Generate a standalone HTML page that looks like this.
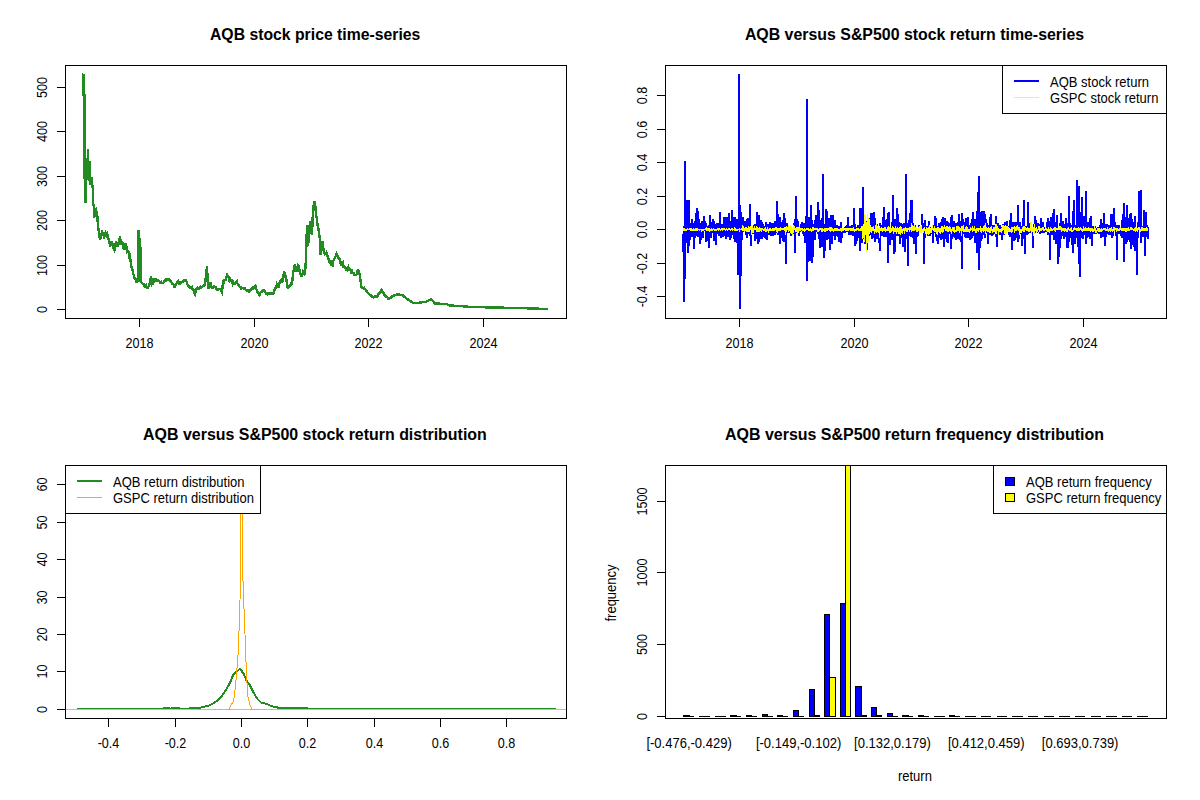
<!DOCTYPE html>
<html><head><meta charset="utf-8"><style>
html,body{margin:0;padding:0;background:#fff;overflow:hidden;}
svg{display:block;}
text{font-family:"Liberation Sans", sans-serif;fill:#000;}
</style></head><body>
<svg width="1200" height="800" viewBox="0 0 1200 800">
<defs><clipPath id="c2"><rect x="665" y="65" width="502" height="254"/></clipPath><clipPath id="c4"><rect x="665" y="465" width="502" height="254"/></clipPath></defs>
<rect width="1200" height="800" fill="#fff"/>
<text transform="translate(315.15,40.2) scale(0.987,1)" text-anchor="middle" font-size="16.0" font-weight="bold">AQB stock price time-series</text>
<path d="M82.10 74.40 L82.57 74.60 L83.03 74.80 L83.50 75.00 L83.50 95.00 L84.00 95.00 L84.50 95.00 L84.50 171.00 L85.00 188.79 L85.50 203.00 L86.00 175.00 L86.50 177.03 L87.00 180.00 L87.50 164.23 L88.00 149.40 L88.50 168.62 L89.00 181.00 L89.50 161.00 L90.00 173.28 L90.50 185.00 L91.00 180.92 L91.50 177.00 L92.00 181.00 L92.50 186.81 L93.00 190.00 L93.00 203.50 L93.50 205.78 L94.00 204.00 L94.25 217.50 L95.00 210.00 L95.50 209.44 L96.00 209.00 L96.50 213.06 L97.00 215.00 L97.40 216.00 L98.00 228.00 L98.50 228.97 L99.00 233.00 L99.50 235.97 L100.00 240.00 L100.50 237.98 L101.00 235.29 L101.50 233.59 L102.00 231.97 L102.50 233.00 L103.00 233.98 L103.50 235.41 L104.00 237.00 L104.50 236.04 L105.00 236.10 L105.50 233.54 L106.00 234.88 L106.50 234.85 L107.00 234.00 L107.50 236.85 L108.00 236.29 L108.50 238.69 L109.00 241.00 L109.50 241.38 L110.00 247.00 L110.50 245.37 L111.00 242.19 L111.50 242.15 L112.00 243.00 L112.50 245.82 L113.00 243.02 L113.50 248.19 L114.00 249.00 L114.50 250.00 L115.00 246.61 L115.50 244.60 L116.00 241.00 L116.50 243.20 L117.00 245.36 L117.50 245.21 L118.00 247.00 L118.50 243.99 L119.00 241.70 L119.50 238.89 L120.00 238.00 L120.50 239.44 L121.00 239.93 L121.50 243.92 L122.00 244.00 L122.50 243.13 L123.00 245.64 L123.50 247.35 L124.00 250.00 L124.50 246.23 L125.00 249.84 L125.50 243.23 L126.00 245.00 L126.50 246.40 L127.00 247.86 L127.50 252.20 L128.00 252.00 L128.50 250.78 L129.00 255.18 L129.50 254.21 L130.00 256.00 L130.50 260.35 L131.00 265.00 L131.50 266.44 L132.00 269.51 L132.50 270.14 L133.00 273.00 L133.50 274.45 L134.00 276.23 L134.50 278.66 L135.00 279.00 L135.50 278.60 L136.00 281.00 L136.50 281.85 L137.00 281.53 L137.50 280.73 L138.00 281.17 L138.50 281.00 L138.50 230.00 L139.00 233.64 L139.50 240.98 L140.00 243.00 L140.50 248.75 L141.00 254.00 L141.00 282.00 L141.50 282.39 L142.00 282.88 L142.50 283.40 L143.00 284.00 L143.50 284.41 L144.00 284.58 L144.50 286.47 L145.00 286.00 L145.50 285.47 L146.00 285.06 L146.50 286.95 L147.00 287.27 L147.50 287.83 L148.00 288.00 L148.50 286.58 L149.00 285.26 L149.50 284.00 L150.00 281.52 L150.50 279.25 L151.00 276.00 L151.50 279.24 L152.00 283.00 L152.50 282.00 L153.00 282.47 L153.50 280.90 L154.00 279.22 L154.50 279.00 L155.00 280.67 L155.50 280.03 L156.00 279.51 L156.50 279.47 L157.00 280.60 L157.50 280.24 L158.00 281.00 L158.50 280.66 L159.00 280.79 L159.50 281.47 L160.00 282.60 L160.50 282.02 L161.00 281.73 L161.50 283.10 L162.00 283.00 L162.46 282.73 L162.92 282.83 L163.38 282.72 L163.85 281.68 L164.31 281.38 L164.77 281.13 L165.23 280.21 L165.69 280.92 L166.15 281.02 L166.62 280.02 L167.08 279.48 L167.54 279.15 L168.00 279.00 L168.50 279.04 L169.00 279.53 L169.50 280.27 L170.00 280.53 L170.50 281.26 L171.00 281.15 L171.50 282.69 L172.00 283.00 L172.50 283.82 L173.00 284.04 L173.50 284.32 L174.00 286.20 L174.50 287.00 L175.00 286.65 L175.50 284.94 L176.00 284.19 L176.50 283.28 L177.00 283.06 L177.50 281.36 L178.00 281.00 L178.50 282.29 L179.00 282.34 L179.50 283.73 L180.00 284.00 L180.45 283.65 L180.91 283.15 L181.36 282.14 L181.82 282.18 L182.27 282.04 L182.73 282.18 L183.18 281.59 L183.64 280.70 L184.09 280.96 L184.55 280.93 L185.00 280.00 L185.60 280.00 L186.08 280.92 L186.56 281.76 L187.04 282.80 L187.52 284.41 L188.00 285.00 L188.50 286.00 L189.00 286.08 L189.50 287.41 L190.00 288.00 L190.50 287.55 L191.00 287.18 L191.50 287.79 L192.00 287.00 L192.50 288.34 L193.00 288.71 L193.50 290.00 L194.00 291.36 L194.50 292.83 L195.00 294.00 L195.50 292.12 L196.00 290.62 L196.50 289.00 L197.00 289.13 L197.50 287.99 L198.00 288.71 L198.50 288.73 L199.00 288.49 L199.50 287.58 L200.00 288.00 L200.50 287.80 L201.00 286.96 L201.50 287.25 L202.00 286.94 L202.50 286.43 L203.00 286.00 L203.50 285.39 L204.00 285.22 L204.50 285.66 L205.00 285.00 L205.50 279.73 L206.00 275.83 L206.50 271.14 L207.00 266.00 L207.50 276.82 L208.00 288.00 L208.50 288.05 L209.00 286.03 L209.50 286.03 L210.00 282.99 L210.50 283.00 L211.00 283.57 L211.50 286.78 L212.00 288.00 L212.50 288.10 L213.00 287.53 L213.50 287.48 L214.00 286.51 L214.50 286.89 L215.00 287.00 L215.50 287.16 L216.00 288.11 L216.50 289.16 L217.00 289.42 L217.50 290.00 L218.00 289.94 L218.50 289.33 L219.00 289.23 L219.50 289.24 L220.00 289.00 L220.50 289.64 L221.00 290.97 L221.50 290.94 L222.00 292.00 L222.50 287.83 L223.00 282.00 L223.50 280.96 L224.00 281.59 L224.50 280.06 L225.00 280.00 L225.50 279.75 L226.00 277.59 L226.50 276.51 L227.00 275.00 L227.50 276.49 L228.00 276.59 L228.50 277.35 L229.00 279.00 L229.50 278.30 L230.00 280.71 L230.50 280.10 L231.00 280.67 L231.50 281.48 L232.00 282.00 L232.50 283.39 L233.00 281.76 L233.50 283.13 L234.00 283.13 L234.50 283.94 L235.00 284.00 L235.50 282.58 L236.00 282.79 L236.50 282.95 L237.00 282.00 L237.50 283.81 L238.00 284.80 L238.50 284.59 L239.00 286.00 L239.50 286.52 L240.00 286.95 L240.50 286.91 L241.00 288.00 L241.50 287.40 L242.00 288.32 L242.50 288.10 L243.00 287.94 L243.50 288.51 L244.00 288.00 L244.50 288.09 L245.00 289.21 L245.50 289.50 L246.00 290.00 L246.50 290.10 L247.00 290.43 L247.50 290.44 L248.00 290.60 L248.50 290.72 L249.00 291.46 L249.50 290.76 L250.00 291.00 L250.50 290.78 L251.00 290.03 L251.50 289.06 L252.00 288.92 L252.50 288.00 L253.00 287.30 L253.50 287.84 L254.00 286.64 L254.50 286.45 L255.00 286.48 L255.50 286.00 L256.00 288.02 L256.50 289.69 L257.00 291.00 L257.50 292.11 L258.00 292.53 L258.50 293.10 L259.00 294.36 L259.50 295.00 L260.00 294.09 L260.50 292.70 L261.00 292.00 L261.50 292.00 L262.00 291.40 L262.50 290.66 L263.00 290.83 L263.50 289.84 L264.00 290.00 L264.50 290.68 L265.00 292.14 L265.50 292.50 L266.00 294.00 L266.50 294.01 L267.00 293.59 L267.50 294.22 L268.00 294.00 L268.45 293.78 L268.91 294.05 L269.36 293.55 L269.82 293.90 L270.27 294.28 L270.73 294.14 L271.18 293.45 L271.64 294.28 L272.09 294.27 L272.55 293.89 L273.00 294.00 L273.50 293.21 L274.00 291.13 L274.50 290.22 L275.00 289.00 L275.50 288.22 L276.00 287.09 L276.50 285.86 L277.00 284.00 L277.50 284.82 L278.00 285.87 L278.50 288.00 L279.00 285.85 L279.50 282.60 L280.00 281.00 L280.50 280.93 L281.00 280.28 L281.50 281.59 L282.00 281.45 L282.50 281.31 L283.00 281.00 L283.50 276.01 L284.00 271.00 L284.50 272.53 L285.00 273.79 L285.50 275.76 L286.00 277.00 L286.50 280.48 L287.00 283.90 L287.50 287.00 L288.00 286.41 L288.50 287.07 L289.00 285.93 L289.50 286.06 L290.00 285.00 L290.50 285.15 L291.00 283.56 L291.50 282.64 L292.00 283.00 L292.50 279.27 L293.00 274.00 L293.50 271.21 L294.00 269.07 L294.50 266.28 L295.00 264.00 L295.50 266.78 L296.00 268.39 L296.50 272.00 L297.00 269.92 L297.50 267.62 L298.00 266.00 L298.50 267.49 L299.00 267.13 L299.50 271.13 L300.00 272.00 L300.50 273.90 L301.00 274.17 L301.50 277.00 L302.00 274.84 L302.50 273.69 L303.00 272.00 L303.50 272.96 L304.00 273.00 L304.50 274.48 L305.00 274.00 L305.50 266.02 L306.00 258.00 L306.50 240.15 L307.00 225.00 L307.50 234.51 L308.00 246.00 L308.50 240.78 L309.00 232.57 L309.50 228.62 L310.00 221.00 L310.50 226.22 L311.00 228.95 L311.50 233.08 L312.00 235.00 L312.50 222.20 L313.00 210.00 L313.50 206.98 L314.00 202.93 L314.50 201.00 L315.00 204.57 L315.50 207.52 L316.00 215.00 L316.50 217.33 L317.00 219.80 L317.50 225.00 L318.00 225.00 L318.50 229.90 L319.00 232.00 L319.50 236.66 L320.00 240.00 L320.50 255.00 L321.00 251.11 L321.50 249.67 L322.00 245.71 L322.50 241.00 L323.00 246.66 L323.50 248.95 L324.00 254.00 L324.50 252.15 L325.00 254.22 L325.50 253.74 L326.00 254.01 L326.50 253.00 L327.00 254.95 L327.50 256.00 L328.00 258.96 L328.50 259.05 L329.00 261.00 L329.50 262.43 L330.00 261.77 L330.50 261.29 L331.00 263.80 L331.50 265.00 L332.00 265.35 L332.50 261.46 L333.00 262.96 L333.50 260.35 L334.00 260.00 L334.50 258.35 L335.00 257.55 L335.50 256.47 L336.00 255.00 L336.50 253.95 L337.00 255.00 L337.50 255.88 L338.00 256.97 L338.50 258.11 L339.00 258.00 L339.50 258.50 L340.00 262.00 L340.50 263.55 L341.00 263.00 L341.50 265.70 L342.00 262.79 L342.50 264.65 L343.00 263.36 L343.50 265.83 L344.00 266.00 L344.50 267.47 L345.00 267.06 L345.50 267.73 L346.00 270.00 L346.50 270.02 L347.00 270.24 L347.50 269.00 L348.00 269.29 L348.50 267.37 L349.00 268.69 L349.50 269.24 L350.00 269.00 L350.50 269.79 L351.00 271.56 L351.50 270.13 L352.00 269.99 L352.50 272.66 L353.00 273.00 L353.50 273.08 L354.00 274.20 L354.50 275.00 L355.00 275.00 L355.50 274.91 L356.00 275.01 L356.50 274.46 L357.00 273.00 L357.50 271.11 L358.00 271.62 L358.50 271.00 L359.00 274.12 L359.50 274.05 L360.00 276.00 L360.50 280.23 L361.00 283.30 L361.50 287.00 L362.00 287.10 L362.50 288.25 L363.00 288.30 L363.50 288.04 L364.00 288.80 L364.50 288.18 L365.00 289.00 L365.50 289.34 L366.00 290.59 L366.50 290.89 L367.00 291.13 L367.50 292.28 L368.00 292.86 L368.50 293.78 L369.00 294.00 L369.50 294.65 L370.00 294.67 L370.50 294.99 L371.00 295.46 L371.50 295.81 L372.00 296.62 L372.50 297.02 L373.00 297.00 L373.50 297.26 L374.00 296.97 L374.50 296.75 L375.00 296.97 L375.50 296.60 L376.00 296.68 L376.50 296.15 L377.00 296.50 L377.50 295.69 L378.00 295.50 L378.50 294.10 L379.00 293.24 L379.50 293.00 L380.00 292.20 L380.50 292.08 L381.00 291.28 L381.50 290.00 L382.00 290.73 L382.50 291.55 L383.00 292.54 L383.50 293.14 L384.00 294.30 L384.50 295.06 L385.00 296.00 L385.50 296.00 L386.00 296.61 L386.50 297.06 L387.00 297.30 L387.50 297.63 L388.00 298.44 L388.50 299.02 L389.00 299.00 L389.50 298.57 L390.00 298.16 L390.50 297.99 L391.00 297.45 L391.50 296.94 L392.00 297.09 L392.50 296.11 L393.00 296.00 L393.50 295.62 L394.00 295.45 L394.50 295.20 L395.00 295.18 L395.50 295.22 L396.00 295.28 L396.50 294.88 L397.00 294.50 L397.45 294.56 L397.91 294.23 L398.36 294.62 L398.82 294.41 L399.27 294.70 L399.73 295.05 L400.18 294.88 L400.64 294.80 L401.09 294.70 L401.55 294.95 L402.00 295.00 L402.50 295.41 L403.00 295.50 L403.50 295.99 L404.00 296.72 L404.50 296.47 L405.00 297.15 L405.50 297.36 L406.00 298.00 L406.50 298.66 L407.00 298.79 L407.50 299.10 L408.00 299.41 L408.50 299.72 L409.00 300.00 L409.50 300.38 L410.00 300.75 L410.50 301.12 L411.00 301.50 L411.50 301.88 L412.00 302.25 L412.50 302.62 L413.00 303.00 L413.45 303.00 L413.91 303.00 L414.36 303.00 L414.82 303.00 L415.27 303.00 L415.73 303.00 L416.18 303.00 L416.64 303.00 L417.09 303.00 L417.55 303.00 L418.00 303.00 L418.45 302.91 L418.91 302.82 L419.36 302.73 L419.82 302.64 L420.27 302.55 L420.73 302.45 L421.18 302.36 L421.64 302.27 L422.09 302.18 L422.55 302.09 L423.00 302.00 L423.50 302.00 L424.00 302.00 L424.50 302.00 L425.00 302.00 L425.50 302.00 L426.00 302.00 L426.45 301.73 L426.91 301.45 L427.36 301.18 L427.82 300.91 L428.27 300.64 L428.73 300.36 L429.18 300.09 L429.64 300.03 L430.09 299.76 L430.55 299.33 L431.00 299.00 L431.50 299.44 L432.00 300.12 L432.50 300.69 L433.00 301.25 L433.50 301.81 L434.00 302.38 L434.50 302.94 L435.00 303.50 L435.46 303.52 L435.92 303.54 L436.38 303.56 L436.83 303.58 L437.29 303.60 L437.75 303.62 L438.21 303.65 L438.67 303.67 L439.12 303.69 L439.58 303.71 L440.04 303.73 L440.50 303.75 L440.96 303.77 L441.42 303.79 L441.88 303.81 L442.33 303.83 L442.79 303.85 L443.25 303.88 L443.71 303.90 L444.17 303.92 L444.62 303.94 L445.08 303.96 L445.54 303.98 L446.00 304.00 L446.50 304.19 L447.00 304.38 L447.50 304.56 L448.00 304.75 L448.50 304.94 L449.00 305.12 L449.50 305.31 L450.00 305.50 L450.45 305.52 L450.90 305.55 L451.35 305.57 L451.80 305.60 L452.25 305.62 L452.70 305.65 L453.15 305.68 L453.60 305.70 L454.05 305.73 L454.50 305.75 L454.95 305.77 L455.40 305.80 L455.85 305.82 L456.30 305.85 L456.75 305.88 L457.20 305.90 L457.65 305.93 L458.10 305.95 L458.55 305.98 L459.00 306.00 L459.46 306.04 L459.92 306.08 L460.38 306.12 L460.85 306.15 L461.31 306.19 L461.77 306.23 L462.23 306.27 L462.69 306.31 L463.15 306.35 L463.62 306.38 L464.08 306.42 L464.54 306.46 L465.00 306.50 L465.46 306.54 L465.92 306.58 L466.38 306.62 L466.85 306.65 L467.31 306.69 L467.77 306.73 L468.23 306.77 L468.69 306.81 L469.15 306.85 L469.62 306.88 L470.08 306.92 L470.54 306.96 L471.00 307.00 L471.45 307.01 L471.90 307.02 L472.36 307.03 L472.81 307.04 L473.26 307.05 L473.71 307.06 L474.16 307.07 L474.62 307.08 L475.07 307.09 L475.52 307.10 L475.97 307.11 L476.42 307.12 L476.88 307.12 L477.33 307.13 L477.78 307.14 L478.23 307.15 L478.68 307.16 L479.13 307.17 L479.59 307.18 L480.04 307.19 L480.49 307.20 L480.94 307.21 L481.39 307.22 L481.85 307.23 L482.30 307.24 L482.75 307.25 L483.20 307.26 L483.65 307.27 L484.11 307.28 L484.56 307.29 L485.01 307.30 L485.46 307.31 L485.91 307.32 L486.37 307.33 L486.82 307.34 L487.27 307.35 L487.72 307.36 L488.17 307.37 L488.62 307.38 L489.08 307.38 L489.53 307.39 L489.98 307.40 L490.43 307.41 L490.88 307.42 L491.34 307.43 L491.79 307.44 L492.24 307.45 L492.69 307.46 L493.14 307.47 L493.60 307.48 L494.05 307.49 L494.50 307.50 L494.95 307.51 L495.40 307.52 L495.86 307.53 L496.31 307.54 L496.76 307.55 L497.21 307.56 L497.66 307.57 L498.12 307.58 L498.57 307.59 L499.02 307.60 L499.47 307.61 L499.92 307.62 L500.38 307.62 L500.83 307.63 L501.28 307.64 L501.73 307.65 L502.18 307.66 L502.63 307.67 L503.09 307.68 L503.54 307.69 L503.99 307.70 L504.44 307.71 L504.89 307.72 L505.35 307.73 L505.80 307.74 L506.25 307.75 L506.70 307.76 L507.15 307.77 L507.61 307.78 L508.06 307.79 L508.51 307.80 L508.96 307.81 L509.41 307.82 L509.87 307.83 L510.32 307.84 L510.77 307.85 L511.22 307.86 L511.67 307.87 L512.12 307.88 L512.58 307.88 L513.03 307.89 L513.48 307.90 L513.93 307.91 L514.38 307.92 L514.84 307.93 L515.29 307.94 L515.74 307.95 L516.19 307.96 L516.64 307.97 L517.10 307.98 L517.55 307.99 L518.00 308.00 L518.45 308.02 L518.91 308.03 L519.36 308.05 L519.82 308.06 L520.27 308.08 L520.73 308.09 L521.18 308.11 L521.64 308.12 L522.09 308.14 L522.55 308.15 L523.00 308.17 L523.45 308.18 L523.91 308.20 L524.36 308.21 L524.82 308.23 L525.27 308.24 L525.73 308.26 L526.18 308.27 L526.64 308.29 L527.09 308.30 L527.55 308.32 L528.00 308.33 L528.45 308.35 L528.91 308.36 L529.36 308.38 L529.82 308.39 L530.27 308.41 L530.73 308.42 L531.18 308.44 L531.64 308.45 L532.09 308.47 L532.55 308.48 L533.00 308.50 L533.45 308.52 L533.91 308.53 L534.36 308.55 L534.82 308.56 L535.27 308.58 L535.73 308.59 L536.18 308.61 L536.64 308.62 L537.09 308.64 L537.55 308.65 L538.00 308.67 L538.45 308.68 L538.91 308.70 L539.36 308.71 L539.82 308.73 L540.27 308.74 L540.73 308.76 L541.18 308.77 L541.64 308.79 L542.09 308.80 L542.55 308.82 L543.00 308.83 L543.45 308.85 L543.91 308.86 L544.36 308.88 L544.82 308.89 L545.27 308.91 L545.73 308.92 L546.18 308.94 L546.64 308.95 L547.09 308.97 L547.55 308.98 L548.00 309.00" fill="none" stroke="#228b22" stroke-width="2.4" stroke-linejoin="miter" shape-rendering="crispEdges"/>
<rect x="65.5" y="65.5" width="501" height="253" fill="none" stroke="#000" stroke-width="1" shape-rendering="crispEdges"/>
<path d="M139.5 318.5V326.5M254.5 318.5V326.5M368.5 318.5V326.5M483.5 318.5V326.5" stroke="#000" stroke-width="1" fill="none" shape-rendering="crispEdges"/>
<text transform="translate(139.5,348) scale(0.9,1)" text-anchor="middle" font-size="14.0">2018</text>
<text transform="translate(254.5,348) scale(0.9,1)" text-anchor="middle" font-size="14.0">2020</text>
<text transform="translate(368.5,348) scale(0.9,1)" text-anchor="middle" font-size="14.0">2022</text>
<text transform="translate(483.5,348) scale(0.9,1)" text-anchor="middle" font-size="14.0">2024</text>
<path d="M57 309.5H66M57 265.5H66M57 220.5H66M57 176.5H66M57 131.5H66M57 87.5H66" stroke="#000" stroke-width="1" fill="none" shape-rendering="crispEdges"/>
<text transform="translate(46.5,309.5) rotate(-90) scale(0.9,1)" text-anchor="middle" font-size="14.0">0</text>
<text transform="translate(46.5,265.5) rotate(-90) scale(0.9,1)" text-anchor="middle" font-size="14.0">100</text>
<text transform="translate(46.5,220.5) rotate(-90) scale(0.9,1)" text-anchor="middle" font-size="14.0">200</text>
<text transform="translate(46.5,176.5) rotate(-90) scale(0.9,1)" text-anchor="middle" font-size="14.0">300</text>
<text transform="translate(46.5,131.5) rotate(-90) scale(0.9,1)" text-anchor="middle" font-size="14.0">400</text>
<text transform="translate(46.5,87.5) rotate(-90) scale(0.9,1)" text-anchor="middle" font-size="14.0">500</text>
<text transform="translate(914.5,40.2) scale(0.9946,1)" text-anchor="middle" font-size="16.0" font-weight="bold">AQB versus S&amp;P500 stock return time-series</text>
<g clip-path="url(#c2)"><path d="M683.00 233.39 L683.23 234.13 L683.46 236.72 L683.70 302.00 L683.91 236.03 L684.14 240.34 L684.37 226.14 L684.60 234.45 L684.80 161.00 L685.00 278.60 L685.28 223.22 L685.51 230.68 L685.74 221.54 L686.00 200.00 L686.19 217.74 L686.42 225.60 L686.65 223.75 L686.88 234.86 L687.10 243.38 L687.33 218.40 L687.50 200.00 L687.79 224.24 L688.02 212.93 L688.25 227.07 L688.40 253.00 L688.70 235.79 L689.00 200.50 L689.16 231.26 L689.39 233.85 L689.61 227.08 L689.84 225.25 L690.07 225.17 L690.30 239.59 L690.53 232.81 L690.75 237.15 L690.98 230.11 L691.21 235.36 L691.44 222.80 L691.67 228.02 L691.89 219.07 L692.12 232.57 L692.35 228.21 L692.58 232.34 L692.81 229.54 L693.03 235.05 L693.26 223.58 L693.49 235.09 L693.70 248.80 L693.95 231.02 L694.17 233.17 L694.40 223.04 L694.63 226.64 L694.86 229.03 L695.09 227.07 L695.31 237.96 L695.54 218.61 L695.77 234.80 L696.00 227.61 L696.23 213.50 L696.46 227.71 L696.68 230.94 L696.91 207.97 L697.14 215.86 L697.37 235.38 L697.60 236.59 L697.82 215.28 L698.05 213.13 L698.28 211.48 L698.51 218.60 L698.74 221.11 L698.96 227.64 L699.19 223.23 L699.42 234.46 L699.65 223.16 L699.88 227.05 L700.00 243.50 L700.33 226.88 L700.56 224.92 L700.79 223.03 L701.02 236.68 L701.24 239.56 L701.47 224.42 L701.70 220.65 L701.93 224.35 L702.16 229.26 L702.38 230.17 L702.61 238.02 L702.84 227.14 L703.07 225.69 L703.30 227.86 L703.52 222.54 L703.75 216.44 L703.98 225.36 L704.21 224.23 L704.44 230.83 L704.67 221.45 L704.89 226.13 L705.12 231.05 L705.35 230.91 L705.58 223.42 L705.81 235.22 L706.03 237.55 L706.26 242.08 L706.49 230.43 L706.72 233.18 L706.95 231.71 L707.17 228.72 L707.40 229.77 L707.63 226.45 L707.86 228.78 L708.09 233.52 L708.31 225.82 L708.60 247.70 L708.77 231.71 L709.00 227.23 L709.23 231.65 L709.45 234.62 L709.60 214.80 L709.91 234.32 L710.14 235.43 L710.37 232.34 L710.59 232.10 L710.82 230.70 L711.05 238.04 L711.28 229.50 L711.51 230.34 L711.73 222.85 L711.96 231.04 L712.19 225.26 L712.42 225.52 L712.65 218.59 L712.87 223.37 L713.10 233.42 L713.33 230.70 L713.56 232.07 L713.79 221.32 L714.02 232.96 L714.24 230.16 L714.47 240.66 L714.70 228.61 L714.93 235.75 L715.16 232.33 L715.38 237.32 L715.61 231.17 L715.84 229.72 L716.00 244.60 L716.30 223.54 L716.52 226.49 L716.75 229.25 L716.98 228.43 L717.21 225.01 L717.44 226.88 L717.66 229.28 L717.89 224.16 L718.12 223.50 L718.35 229.97 L718.58 235.61 L718.80 224.72 L719.03 229.53 L719.26 223.96 L719.49 228.07 L719.72 231.30 L719.94 226.44 L720.20 212.30 L720.40 230.37 L720.63 225.70 L720.86 232.04 L721.08 238.28 L721.31 230.77 L721.54 223.73 L721.77 229.07 L722.00 235.75 L722.23 226.32 L722.45 231.66 L722.68 230.55 L722.91 228.45 L723.14 234.14 L723.37 237.08 L723.59 223.23 L723.82 221.19 L724.05 229.69 L724.28 233.21 L724.50 217.00 L724.73 217.27 L724.96 224.38 L725.19 236.01 L725.42 229.42 L725.65 233.99 L725.87 238.71 L726.10 226.96 L726.33 229.15 L726.56 224.24 L726.79 216.86 L727.01 223.76 L727.24 222.54 L727.47 222.50 L727.70 228.06 L727.93 233.61 L728.15 228.78 L728.38 236.72 L728.61 232.63 L728.84 225.18 L729.07 213.46 L729.29 233.89 L729.52 232.54 L729.75 239.96 L729.98 221.37 L730.21 228.47 L730.44 231.78 L730.66 236.15 L730.89 225.21 L731.12 237.50 L731.35 224.33 L731.58 229.83 L731.80 222.69 L732.03 229.51 L732.26 209.95 L732.49 234.69 L732.72 227.59 L732.94 217.37 L733.17 233.96 L733.40 224.26 L733.63 224.88 L733.86 239.07 L734.08 231.19 L734.31 226.46 L734.54 228.98 L734.77 232.39 L735.00 217.50 L735.22 242.43 L735.45 230.49 L735.68 225.06 L735.91 219.38 L736.14 230.58 L736.36 226.20 L736.59 223.10 L736.82 228.54 L737.05 233.66 L737.28 242.57 L737.50 233.22 L737.73 218.97 L737.96 231.55 L738.30 275.00 L738.42 235.03 L738.64 215.51 L738.87 231.74 L739.00 73.90 L739.33 232.05 L739.50 203.00 L739.79 236.32 L740.01 228.86 L740.24 221.79 L740.40 309.40 L740.70 227.74 L740.93 228.65 L741.15 212.25 L741.38 229.99 L741.61 239.85 L741.84 233.55 L742.07 226.54 L742.29 236.77 L742.52 217.08 L742.75 229.06 L742.98 230.96 L743.21 231.28 L743.43 229.77 L743.66 224.66 L743.89 225.10 L744.12 232.24 L744.35 230.59 L744.57 231.81 L744.80 228.56 L745.03 221.27 L745.26 230.49 L745.49 225.01 L745.71 232.15 L745.94 222.03 L746.17 235.42 L746.40 227.87 L746.63 232.55 L746.85 237.74 L747.08 233.62 L747.31 229.36 L747.54 218.42 L747.77 230.59 L748.00 228.93 L748.22 231.34 L748.45 225.50 L748.68 226.39 L748.91 219.86 L749.14 226.59 L749.36 230.97 L749.59 234.49 L749.82 230.05 L750.00 204.00 L750.28 236.38 L750.50 230.27 L750.73 227.82 L751.00 245.60 L751.19 233.01 L751.42 234.34 L751.64 232.98 L751.87 231.20 L752.10 229.86 L752.33 232.10 L752.56 227.39 L752.78 229.89 L753.01 228.69 L753.24 232.30 L753.47 233.34 L753.70 232.14 L753.92 228.97 L754.15 224.66 L754.38 234.23 L754.61 223.99 L754.84 240.76 L755.06 236.47 L755.29 233.67 L755.52 228.85 L755.75 238.89 L755.98 231.66 L756.21 233.05 L756.43 224.35 L756.66 236.00 L757.00 211.70 L757.12 229.96 L757.35 229.75 L757.57 223.70 L757.80 229.91 L758.03 230.41 L758.26 229.41 L758.50 243.50 L758.71 229.37 L758.94 237.10 L759.17 215.14 L759.40 226.10 L759.63 230.06 L759.85 236.83 L760.08 231.23 L760.31 238.85 L760.54 226.79 L760.77 227.65 L760.99 229.20 L761.22 232.31 L761.45 220.41 L761.68 227.19 L761.91 226.30 L762.13 227.72 L762.36 239.34 L762.59 234.38 L762.82 229.10 L763.05 224.03 L763.27 227.91 L763.50 236.67 L763.73 226.15 L763.96 229.51 L764.19 226.53 L764.41 228.07 L764.64 228.14 L764.87 231.09 L765.10 235.17 L765.33 235.56 L765.56 238.79 L765.78 231.45 L766.01 221.88 L766.24 230.40 L766.47 227.58 L766.70 233.02 L767.00 240.30 L767.15 228.71 L767.38 234.73 L767.61 226.71 L767.84 234.60 L768.06 224.49 L768.29 234.39 L768.52 225.04 L768.75 229.87 L768.98 230.97 L769.20 231.45 L769.43 230.50 L769.66 221.70 L769.89 234.87 L770.12 224.32 L770.34 221.96 L770.57 229.04 L770.80 235.92 L771.03 226.01 L771.26 231.98 L771.48 225.61 L771.71 228.92 L771.94 222.60 L772.17 224.81 L772.40 234.66 L772.62 227.35 L772.85 236.40 L773.08 231.16 L773.31 223.34 L773.54 227.80 L773.77 235.24 L773.99 228.51 L774.22 223.07 L774.45 233.94 L774.68 220.81 L774.91 221.77 L775.13 231.18 L775.36 234.86 L775.59 230.18 L775.82 223.38 L776.05 227.58 L776.27 228.32 L776.50 233.42 L776.73 222.81 L776.96 227.60 L777.19 229.75 L777.41 200.98 L777.64 229.84 L777.87 235.18 L778.10 225.79 L778.33 233.14 L778.55 229.53 L778.78 234.55 L779.01 221.26 L779.24 232.70 L779.50 217.50 L779.70 243.50 L779.92 229.46 L780.15 236.01 L780.38 219.71 L780.61 233.49 L780.83 222.22 L781.06 235.31 L781.29 228.05 L781.52 226.52 L781.75 238.00 L781.97 232.33 L782.20 235.44 L782.43 232.53 L782.66 227.09 L782.89 232.81 L783.12 220.36 L783.34 237.67 L783.57 242.23 L783.80 236.17 L784.00 213.30 L784.26 235.83 L784.48 216.66 L784.71 225.72 L784.94 237.74 L785.17 221.32 L785.40 223.00 L785.62 235.70 L785.85 232.99 L786.00 263.70 L786.31 230.86 L786.54 222.84 L786.76 225.20 L786.99 230.23 L787.22 229.13 L787.45 228.32 L787.68 228.12 L787.90 229.26 L788.13 229.21 L788.36 232.78 L788.59 228.51 L788.82 230.03 L789.04 229.69 L789.27 230.84 L789.50 230.82 L789.73 228.52 L789.96 227.32 L790.18 232.85 L790.41 227.37 L790.64 236.36 L790.87 226.04 L791.10 229.88 L791.33 233.14 L791.55 227.65 L791.78 232.61 L792.01 229.60 L792.24 232.52 L792.47 231.46 L792.69 234.36 L792.92 231.72 L793.15 227.64 L793.38 228.70 L793.61 227.75 L793.83 231.17 L794.06 224.81 L794.29 223.51 L794.52 223.78 L794.75 218.57 L795.00 253.00 L795.20 227.86 L795.43 224.62 L795.66 232.63 L795.89 232.06 L796.11 229.86 L796.30 196.30 L796.57 230.78 L796.80 225.19 L797.03 228.97 L797.25 228.52 L797.48 219.10 L797.71 228.74 L797.94 228.60 L798.17 226.07 L798.39 233.68 L798.62 226.08 L798.85 231.73 L799.08 236.01 L799.31 229.44 L799.54 228.60 L799.76 232.39 L799.99 227.02 L800.22 231.40 L800.45 229.08 L800.68 229.63 L800.90 225.35 L801.13 225.75 L801.36 224.45 L801.59 226.69 L801.82 231.20 L802.04 230.48 L802.27 226.11 L802.50 221.74 L802.73 233.67 L802.96 234.06 L803.18 228.84 L803.41 230.14 L803.64 225.16 L803.87 229.92 L804.10 222.89 L804.32 230.93 L804.55 236.69 L804.78 229.88 L805.01 228.73 L805.24 230.68 L805.46 243.41 L805.69 234.83 L805.92 215.70 L806.15 218.67 L806.38 226.32 L806.60 226.87 L806.90 99.00 L807.00 280.70 L807.29 215.69 L807.52 237.10 L807.74 225.68 L807.97 237.02 L808.20 232.58 L808.50 262.00 L808.66 232.01 L808.89 217.05 L809.11 220.00 L809.34 226.82 L809.57 225.91 L809.80 223.34 L810.00 261.00 L810.25 232.25 L810.48 228.62 L810.71 220.17 L811.00 205.00 L811.17 220.23 L811.39 232.84 L811.60 262.60 L811.85 237.12 L812.08 230.28 L812.31 220.05 L812.50 258.00 L812.76 237.84 L812.99 223.89 L813.22 227.23 L813.45 239.42 L813.67 226.94 L813.90 231.09 L814.13 231.63 L814.36 225.86 L814.59 240.32 L814.81 234.67 L815.04 230.05 L815.27 224.31 L815.50 220.15 L815.73 230.91 L816.00 215.50 L816.18 226.48 L816.41 225.77 L816.64 226.71 L816.87 228.50 L817.10 221.02 L817.32 232.24 L817.55 225.89 L817.78 230.58 L818.01 220.91 L818.24 233.61 L818.46 202.00 L818.69 239.03 L818.92 224.35 L819.15 226.33 L819.38 232.90 L819.60 233.84 L819.83 228.56 L820.06 231.17 L820.29 248.07 L820.52 226.56 L820.74 242.47 L820.97 222.42 L821.20 220.09 L821.43 238.89 L821.66 218.40 L821.88 224.19 L822.20 246.70 L822.34 234.21 L822.57 245.42 L822.70 174.00 L823.02 224.79 L823.25 235.22 L823.48 243.71 L823.71 228.19 L823.94 228.14 L824.16 258.35 L824.39 224.22 L824.62 229.67 L824.85 237.01 L825.08 239.36 L825.40 250.90 L825.53 232.12 L825.76 224.98 L825.99 237.83 L826.22 221.51 L826.50 209.50 L826.67 227.08 L826.90 240.20 L827.13 229.55 L827.36 231.01 L827.59 238.97 L827.81 234.19 L828.04 229.72 L828.27 229.20 L828.50 217.78 L828.73 223.63 L828.95 235.10 L829.18 229.75 L829.41 229.21 L829.70 248.80 L829.87 249.78 L830.09 235.55 L830.32 230.66 L830.55 228.05 L830.78 214.62 L831.01 235.69 L831.23 233.20 L831.46 237.51 L831.69 238.19 L831.92 243.89 L832.15 234.92 L832.37 228.35 L832.60 223.11 L832.83 235.61 L833.06 214.85 L833.29 227.59 L833.51 224.21 L833.74 234.46 L833.97 228.99 L834.20 229.46 L834.43 226.91 L834.66 220.22 L834.88 228.29 L835.11 239.52 L835.34 226.34 L835.57 235.88 L835.80 228.08 L836.02 227.29 L836.25 227.52 L836.48 230.88 L836.71 231.55 L836.94 231.83 L837.16 233.22 L837.39 225.30 L837.62 237.44 L837.85 227.61 L838.08 232.61 L838.30 229.19 L838.53 229.81 L838.76 235.28 L838.99 241.83 L839.22 226.99 L839.44 225.87 L839.67 232.49 L839.90 231.56 L840.13 226.88 L840.36 234.47 L840.58 222.54 L840.81 221.96 L841.04 230.55 L841.27 228.42 L841.40 242.50 L841.72 229.63 L841.95 232.30 L842.18 227.64 L842.41 230.62 L842.64 231.49 L842.87 233.21 L843.09 229.51 L843.32 230.66 L843.55 229.04 L843.78 233.04 L844.01 229.11 L844.23 229.17 L844.46 228.49 L844.69 226.69 L844.92 229.22 L845.15 230.71 L845.37 233.02 L845.60 229.37 L845.83 230.75 L846.06 225.79 L846.29 230.48 L846.51 231.39 L846.74 231.03 L846.97 227.18 L847.20 227.12 L847.43 229.09 L847.70 217.50 L847.88 229.44 L848.11 226.56 L848.34 229.15 L848.57 232.32 L848.79 229.25 L849.02 225.77 L849.25 233.42 L849.48 234.55 L849.71 229.40 L849.93 231.21 L850.16 230.76 L850.39 228.53 L850.62 227.23 L850.85 226.14 L851.08 231.30 L851.30 235.16 L851.53 233.23 L851.76 233.13 L851.99 227.97 L852.22 231.18 L852.44 225.46 L852.67 224.82 L852.90 227.56 L853.13 236.04 L853.36 235.08 L853.58 230.45 L853.70 207.80 L854.04 228.60 L854.27 234.88 L854.50 230.83 L854.72 224.13 L854.95 234.53 L855.20 245.60 L855.41 239.92 L855.64 243.94 L855.86 233.68 L856.09 234.63 L856.32 238.99 L856.55 227.35 L856.78 230.37 L857.00 241.29 L857.23 232.39 L857.46 240.21 L857.69 229.01 L857.92 224.79 L858.14 227.92 L858.37 231.01 L858.60 235.36 L858.83 228.04 L859.06 230.92 L859.28 231.60 L859.51 233.50 L859.74 220.97 L860.00 250.90 L860.20 222.51 L860.50 208.40 L860.65 240.42 L860.88 227.00 L861.11 224.14 L861.34 229.97 L861.57 234.90 L861.79 231.04 L862.02 243.16 L862.25 223.70 L862.48 218.16 L862.71 217.44 L863.00 187.20 L863.16 231.75 L863.39 222.68 L863.62 225.21 L863.85 238.51 L864.07 233.17 L864.30 236.89 L864.53 216.59 L864.76 230.15 L864.99 232.63 L865.21 244.36 L865.44 218.35 L865.67 226.32 L865.90 228.03 L866.13 232.52 L866.35 231.39 L866.58 227.12 L866.90 249.80 L867.04 231.72 L867.27 233.14 L867.49 225.00 L867.72 235.00 L867.95 231.00 L868.18 231.66 L868.41 230.88 L868.64 235.86 L868.86 232.20 L869.09 231.59 L869.32 230.82 L869.55 235.20 L869.78 228.24 L870.00 231.15 L870.23 230.42 L870.46 218.35 L870.69 234.45 L870.92 231.82 L871.14 234.12 L871.37 213.54 L871.60 213.53 L871.83 234.20 L872.06 236.31 L872.28 238.94 L872.51 232.05 L872.74 218.01 L872.97 225.97 L873.20 235.98 L873.42 237.09 L873.65 236.77 L873.88 231.80 L874.00 211.60 L874.34 216.62 L874.56 242.23 L874.79 232.97 L875.02 217.82 L875.25 234.87 L875.48 227.06 L875.70 232.78 L875.93 226.00 L876.16 224.88 L876.39 225.87 L876.62 224.10 L876.85 225.80 L877.07 238.66 L877.30 230.73 L877.53 230.90 L877.76 238.17 L877.99 227.59 L878.21 232.90 L878.44 228.38 L878.67 232.90 L878.90 238.23 L879.13 239.29 L879.35 228.77 L879.60 250.90 L879.81 222.94 L880.04 226.13 L880.27 226.43 L880.49 231.96 L880.72 225.88 L880.95 227.64 L881.18 230.18 L881.41 234.05 L881.63 233.83 L881.86 224.79 L882.09 227.16 L882.32 236.46 L882.55 227.21 L882.77 217.48 L883.00 231.59 L883.23 226.89 L883.46 225.76 L883.69 235.35 L884.00 207.40 L884.14 236.76 L884.37 227.89 L884.60 231.63 L884.83 227.73 L885.05 229.24 L885.28 234.62 L885.51 227.85 L885.74 220.01 L885.97 230.08 L886.20 236.55 L886.42 232.00 L886.65 219.40 L886.88 235.41 L887.11 226.49 L887.34 229.87 L887.56 230.68 L887.79 230.87 L888.00 262.60 L888.25 240.32 L888.48 212.77 L888.70 223.52 L888.93 216.27 L889.16 234.97 L889.39 212.01 L889.62 244.89 L889.84 228.84 L890.07 227.12 L890.30 234.85 L890.53 230.22 L890.76 235.52 L890.98 230.23 L891.21 232.57 L891.44 231.82 L891.67 239.66 L891.90 226.93 L892.12 228.05 L892.35 221.64 L892.58 223.62 L892.80 195.30 L893.04 238.05 L893.26 233.93 L893.49 236.10 L893.72 222.63 L893.95 238.82 L894.18 228.08 L894.50 254.00 L894.63 237.15 L894.86 219.41 L895.09 237.46 L895.32 232.89 L895.55 232.45 L895.77 226.76 L896.00 227.70 L896.23 230.50 L896.46 229.36 L896.60 208.40 L896.91 232.02 L897.14 235.77 L897.37 227.70 L897.60 223.60 L897.83 225.48 L898.05 220.35 L898.28 214.41 L898.51 236.01 L898.74 230.05 L898.97 222.35 L899.19 229.24 L899.42 230.20 L899.65 232.19 L899.88 244.14 L900.11 233.03 L900.33 225.79 L900.56 224.11 L900.79 229.56 L901.02 222.63 L901.25 227.66 L901.47 233.90 L901.70 227.45 L901.93 237.12 L902.16 226.43 L902.39 235.83 L902.62 239.58 L902.84 246.85 L903.07 228.17 L903.30 226.22 L903.53 224.33 L903.76 230.60 L903.98 222.76 L904.21 224.93 L904.44 226.32 L904.67 226.95 L904.90 229.21 L905.12 252.17 L905.35 227.22 L905.58 232.27 L905.80 174.00 L906.04 213.18 L906.26 230.79 L906.49 227.32 L906.72 238.45 L906.95 233.85 L907.18 225.45 L907.40 239.18 L907.63 223.46 L907.86 229.48 L908.00 265.80 L908.32 252.39 L908.54 222.53 L908.77 235.38 L909.00 229.06 L909.23 230.35 L909.46 222.19 L909.68 212.55 L909.91 223.27 L910.14 236.06 L910.37 232.69 L910.60 229.49 L910.82 227.70 L911.05 232.11 L911.28 237.04 L911.50 200.00 L911.74 236.87 L912.00 200.00 L912.19 219.25 L912.42 222.32 L912.65 225.07 L912.88 225.90 L913.11 226.18 L913.33 226.59 L913.60 243.50 L913.79 230.24 L914.02 229.78 L914.25 227.83 L914.47 228.66 L914.70 233.63 L914.93 226.15 L915.16 228.96 L915.39 225.05 L915.61 231.37 L915.84 233.38 L916.07 229.84 L916.40 253.70 L916.53 230.18 L916.75 233.34 L916.98 229.21 L917.21 233.85 L917.44 236.46 L917.67 234.41 L917.89 231.75 L918.12 232.51 L918.35 233.59 L918.58 224.98 L918.81 230.71 L919.03 233.00 L919.26 226.25 L919.49 226.12 L919.72 228.44 L919.95 226.69 L920.18 226.36 L920.40 229.62 L920.63 230.16 L920.86 230.68 L921.09 230.26 L921.32 229.66 L921.54 226.16 L921.70 213.80 L922.00 224.52 L922.23 230.69 L922.46 230.33 L922.68 229.08 L922.91 223.09 L923.14 226.44 L923.37 229.41 L923.60 232.49 L923.80 263.70 L924.05 234.40 L924.28 223.42 L924.51 230.43 L924.74 220.49 L924.96 237.58 L925.19 228.15 L925.42 229.99 L925.65 226.04 L925.88 228.90 L926.10 228.48 L926.33 232.31 L926.56 235.29 L926.79 227.38 L927.02 233.19 L927.24 232.25 L927.47 228.68 L927.70 235.91 L927.93 225.81 L928.16 227.09 L928.38 227.88 L928.61 231.05 L928.84 220.56 L929.07 227.15 L929.30 226.06 L929.53 228.51 L929.75 232.00 L929.98 233.50 L930.21 227.75 L930.44 235.66 L930.67 230.18 L930.89 227.30 L931.12 232.25 L931.35 232.00 L931.58 227.69 L931.81 229.20 L932.03 233.98 L932.26 229.70 L932.49 230.13 L932.72 229.15 L932.95 236.19 L933.17 243.09 L933.40 225.30 L933.63 226.58 L933.86 232.46 L934.09 227.51 L934.31 230.66 L934.54 232.08 L934.77 225.72 L935.00 229.38 L935.23 232.99 L935.50 215.90 L935.68 237.33 L935.91 222.29 L936.14 231.07 L936.37 233.27 L936.59 233.45 L936.82 228.28 L937.05 234.13 L937.28 232.19 L937.60 243.50 L937.74 227.64 L937.96 226.86 L938.19 227.15 L938.42 230.37 L938.65 238.24 L938.88 228.09 L939.10 222.98 L939.33 235.29 L939.56 231.25 L939.79 225.21 L940.02 233.46 L940.24 227.78 L940.47 231.42 L940.70 227.05 L940.93 232.05 L941.16 239.88 L941.38 224.52 L941.61 219.39 L941.84 227.22 L942.07 222.24 L942.30 225.04 L942.52 227.69 L942.75 238.50 L942.98 222.75 L943.21 220.07 L943.44 217.12 L943.66 247.02 L943.89 228.27 L944.12 223.97 L944.35 234.38 L944.58 238.04 L944.80 219.65 L945.00 218.00 L945.26 224.02 L945.49 236.37 L945.72 238.88 L945.95 228.76 L946.17 229.91 L946.40 234.34 L946.63 233.62 L946.86 221.01 L947.09 232.74 L947.31 232.99 L947.54 243.26 L947.77 225.25 L948.00 227.51 L948.23 221.86 L948.45 235.14 L948.68 228.78 L948.91 226.47 L949.14 229.51 L949.37 232.13 L949.59 231.34 L949.82 224.57 L950.05 223.54 L950.28 234.17 L950.51 227.56 L950.73 224.34 L950.96 216.89 L951.19 249.40 L951.40 245.60 L951.65 232.14 L951.87 215.25 L952.10 231.77 L952.33 227.77 L952.56 228.81 L952.79 222.66 L953.01 225.52 L953.24 234.51 L953.47 223.80 L953.70 227.79 L953.93 232.25 L954.15 221.44 L954.38 234.60 L954.61 237.82 L954.84 231.30 L955.07 237.91 L955.30 233.45 L955.52 233.75 L955.75 232.15 L955.98 237.07 L956.21 239.50 L956.44 223.25 L956.66 232.15 L956.89 230.55 L957.12 225.92 L957.35 226.47 L957.58 226.83 L957.80 232.22 L958.03 238.72 L958.26 231.36 L958.49 222.09 L958.72 227.22 L959.00 213.80 L959.17 221.67 L959.40 226.06 L959.63 235.12 L959.86 239.59 L960.08 228.57 L960.31 232.91 L960.54 232.31 L960.77 224.53 L961.00 228.03 L961.22 221.41 L961.45 223.47 L961.60 268.60 L962.00 213.00 L962.14 236.25 L962.36 226.61 L962.59 224.09 L962.82 232.91 L963.05 218.83 L963.28 234.33 L963.51 223.67 L963.73 227.83 L963.96 231.36 L964.19 228.44 L964.42 231.44 L964.65 232.59 L964.87 236.93 L965.10 222.22 L965.33 232.84 L965.56 229.34 L965.79 224.22 L966.01 232.40 L966.24 238.00 L966.47 218.25 L966.70 229.34 L966.93 233.80 L967.15 224.08 L967.38 234.48 L967.61 238.03 L967.84 230.80 L968.07 233.46 L968.29 216.90 L968.52 225.14 L968.75 227.38 L968.98 230.68 L969.21 225.64 L969.43 238.20 L969.66 231.48 L969.89 239.76 L970.12 230.25 L970.35 238.51 L970.57 228.48 L970.80 231.26 L971.03 235.17 L971.26 238.80 L971.49 222.78 L971.72 228.38 L971.94 238.44 L972.17 230.38 L972.40 223.55 L972.70 211.60 L972.86 234.33 L973.08 232.97 L973.31 222.15 L973.54 236.40 L973.77 232.35 L974.00 233.91 L974.22 223.67 L974.45 230.55 L974.68 232.60 L974.91 218.93 L975.14 221.08 L975.36 242.59 L975.59 231.79 L975.82 237.45 L976.05 218.85 L976.28 230.59 L976.50 224.68 L976.73 252.78 L976.96 211.42 L977.19 225.95 L977.42 231.58 L977.64 226.24 L977.87 222.66 L978.10 244.30 L978.33 229.05 L978.60 176.00 L978.78 220.68 L979.00 269.60 L979.24 245.74 L979.47 227.49 L979.70 219.93 L979.92 224.64 L980.15 248.22 L980.38 233.12 L980.61 211.96 L980.84 235.95 L981.07 241.43 L981.29 228.25 L981.52 239.30 L981.75 228.32 L981.98 222.56 L982.21 216.71 L982.43 210.68 L982.66 217.15 L982.89 226.35 L983.12 232.95 L983.35 234.71 L983.57 233.40 L983.80 218.82 L984.03 211.47 L984.26 234.31 L984.49 230.15 L984.71 226.40 L984.94 214.12 L985.17 228.84 L985.40 237.93 L985.63 226.47 L985.85 228.28 L986.08 227.63 L986.31 218.84 L986.54 233.09 L986.77 229.82 L986.99 229.29 L987.22 222.60 L987.45 225.80 L987.68 231.01 L987.91 243.86 L988.13 225.61 L988.36 225.67 L988.59 229.84 L988.82 231.41 L989.05 227.81 L989.28 225.88 L989.50 234.93 L989.73 232.13 L989.96 227.53 L990.19 231.75 L990.42 219.66 L990.70 213.80 L990.87 227.17 L991.10 224.80 L991.33 231.72 L991.56 234.94 L991.78 233.13 L992.01 227.08 L992.24 235.73 L992.47 225.63 L992.70 229.15 L992.92 225.49 L993.15 225.86 L993.38 234.54 L993.61 225.24 L993.84 232.08 L994.06 230.86 L994.29 233.95 L994.52 231.23 L994.75 233.60 L994.98 231.15 L995.20 231.81 L995.43 231.18 L995.66 225.99 L996.00 215.90 L996.12 229.00 L996.34 227.12 L996.57 239.67 L996.80 227.74 L997.10 246.70 L997.26 231.15 L997.49 230.03 L997.71 222.74 L997.94 230.50 L998.17 233.45 L998.40 227.99 L998.63 227.33 L998.85 234.99 L999.08 234.26 L999.31 231.88 L999.54 230.26 L999.77 224.57 L999.99 234.73 L1000.22 228.66 L1000.45 228.98 L1000.68 229.26 L1000.91 227.43 L1001.13 230.15 L1001.36 232.52 L1001.59 228.88 L1001.82 240.14 L1002.05 227.80 L1002.27 227.65 L1002.50 231.10 L1002.73 230.96 L1002.96 224.31 L1003.19 231.25 L1003.41 230.31 L1003.64 225.30 L1003.87 235.40 L1004.10 231.73 L1004.33 229.82 L1004.55 227.70 L1004.78 228.22 L1005.01 226.16 L1005.24 234.57 L1005.47 221.86 L1005.69 230.94 L1005.92 228.50 L1006.15 232.23 L1006.38 228.77 L1006.61 224.92 L1006.84 220.76 L1007.06 230.13 L1007.29 228.16 L1007.52 227.53 L1007.75 228.96 L1007.98 227.55 L1008.20 225.91 L1008.43 227.49 L1008.66 235.00 L1008.89 232.81 L1009.12 232.51 L1009.34 227.55 L1009.57 230.51 L1009.80 230.32 L1010.03 236.67 L1010.26 224.39 L1010.48 219.80 L1010.71 226.18 L1011.00 212.70 L1011.17 225.14 L1011.40 230.11 L1011.62 233.02 L1011.85 243.10 L1012.00 249.80 L1012.31 229.41 L1012.54 222.02 L1012.76 236.34 L1012.99 232.81 L1013.22 230.35 L1013.45 234.58 L1013.68 240.97 L1013.90 235.37 L1014.13 222.85 L1014.36 238.57 L1014.59 224.60 L1014.82 226.58 L1015.05 240.04 L1015.27 224.45 L1015.50 222.18 L1015.73 237.96 L1015.96 225.95 L1016.19 232.74 L1016.41 231.54 L1016.64 238.15 L1016.87 222.01 L1017.10 236.28 L1017.33 232.58 L1017.55 221.76 L1017.78 224.87 L1018.00 204.80 L1018.24 230.45 L1018.47 241.52 L1018.69 230.43 L1018.92 229.23 L1019.15 223.46 L1019.38 230.72 L1019.61 229.88 L1019.83 233.66 L1020.06 221.77 L1020.29 232.31 L1020.52 228.34 L1020.75 225.65 L1020.97 228.37 L1021.20 230.63 L1021.43 232.62 L1021.66 230.34 L1021.89 246.08 L1022.11 239.69 L1022.34 231.00 L1022.57 227.54 L1022.80 238.02 L1023.03 231.90 L1023.26 228.99 L1023.48 217.53 L1023.71 231.40 L1024.00 200.40 L1024.17 227.20 L1024.40 228.93 L1024.70 253.50 L1024.85 231.47 L1025.08 226.98 L1025.31 226.15 L1025.54 232.39 L1025.76 229.29 L1025.99 225.81 L1026.22 233.98 L1026.45 232.03 L1026.68 231.51 L1026.90 235.46 L1027.13 225.62 L1027.36 235.26 L1027.59 229.21 L1027.82 227.19 L1028.00 202.00 L1028.27 228.90 L1028.50 233.52 L1028.73 228.48 L1028.96 225.33 L1029.18 231.57 L1029.41 230.31 L1029.64 222.71 L1029.87 231.64 L1030.10 230.19 L1030.32 230.82 L1030.55 227.55 L1030.78 232.20 L1031.01 232.81 L1031.24 230.33 L1031.46 233.27 L1031.69 231.38 L1031.92 229.22 L1032.15 227.06 L1032.38 231.19 L1032.61 228.35 L1032.83 230.30 L1033.06 226.64 L1033.20 248.20 L1033.52 230.78 L1033.75 227.88 L1033.97 229.36 L1034.20 223.55 L1034.43 231.74 L1034.66 232.80 L1034.89 228.13 L1035.11 229.50 L1035.40 215.90 L1035.57 222.07 L1035.80 227.27 L1036.03 229.40 L1036.25 228.28 L1036.48 228.78 L1036.71 225.86 L1036.94 232.46 L1037.17 229.19 L1037.39 229.62 L1037.62 226.76 L1037.85 229.27 L1038.08 228.07 L1038.31 223.47 L1038.53 226.68 L1038.76 228.94 L1038.99 230.05 L1039.22 223.93 L1039.45 230.71 L1039.67 234.11 L1039.90 231.33 L1040.13 227.71 L1040.36 230.82 L1040.70 217.60 L1040.82 229.89 L1041.04 229.97 L1041.27 232.58 L1041.50 230.37 L1041.73 228.90 L1041.96 230.64 L1042.18 230.45 L1042.41 229.37 L1042.64 227.00 L1042.87 228.04 L1043.10 233.07 L1043.32 222.38 L1043.55 233.32 L1043.78 227.59 L1044.01 228.33 L1044.24 230.78 L1044.46 228.85 L1044.69 229.90 L1044.92 227.84 L1045.15 227.43 L1045.38 232.30 L1045.60 226.96 L1045.83 231.45 L1046.06 228.92 L1046.29 227.85 L1046.52 230.04 L1046.74 227.66 L1046.97 230.55 L1047.20 221.62 L1047.43 226.96 L1047.66 227.56 L1047.88 221.51 L1048.11 234.93 L1048.34 218.49 L1048.57 230.82 L1048.80 224.00 L1049.03 231.77 L1049.25 220.67 L1049.48 228.90 L1049.80 260.00 L1049.94 229.25 L1050.17 232.21 L1050.39 227.69 L1050.62 228.28 L1050.85 222.72 L1051.08 224.06 L1051.30 217.10 L1051.53 225.92 L1051.76 234.52 L1051.99 229.86 L1052.22 229.43 L1052.45 233.24 L1052.67 224.62 L1052.90 225.71 L1053.13 234.55 L1053.36 222.94 L1053.59 209.29 L1053.81 239.77 L1054.04 227.12 L1054.27 229.83 L1054.50 237.50 L1054.73 239.81 L1054.95 223.45 L1055.18 228.04 L1055.41 233.74 L1055.64 222.34 L1055.87 243.83 L1056.09 235.87 L1056.32 243.03 L1056.60 215.90 L1056.78 229.38 L1057.01 215.46 L1057.23 222.40 L1057.46 230.23 L1057.69 249.19 L1057.92 228.57 L1058.15 240.75 L1058.38 263.96 L1058.70 246.70 L1058.83 227.92 L1059.06 231.96 L1059.29 242.80 L1059.52 240.08 L1059.74 237.96 L1059.97 246.49 L1060.20 223.19 L1060.43 248.02 L1060.66 226.40 L1060.88 226.27 L1061.00 213.00 L1061.34 216.73 L1061.57 232.44 L1061.80 227.53 L1062.02 227.32 L1062.25 235.32 L1062.48 235.80 L1062.71 220.73 L1062.94 225.11 L1063.16 229.04 L1063.39 227.90 L1063.62 231.19 L1063.85 234.03 L1064.08 223.70 L1064.30 239.20 L1064.53 227.20 L1064.76 233.64 L1064.99 228.89 L1065.22 229.81 L1065.44 236.21 L1065.67 221.45 L1065.90 217.97 L1066.13 228.64 L1066.36 237.04 L1066.59 229.08 L1066.81 223.03 L1067.04 229.99 L1067.27 225.84 L1067.50 247.54 L1067.73 247.66 L1067.95 226.79 L1068.18 229.04 L1068.41 233.95 L1068.64 214.87 L1068.87 229.05 L1069.00 195.70 L1069.32 241.98 L1069.55 233.05 L1069.78 223.18 L1070.01 229.36 L1070.23 235.76 L1070.46 231.72 L1070.69 225.03 L1070.92 232.17 L1071.15 232.85 L1071.37 238.16 L1071.60 231.35 L1071.83 227.53 L1072.06 231.99 L1072.29 225.00 L1072.60 253.00 L1072.74 232.73 L1072.97 225.04 L1073.20 230.94 L1073.43 222.41 L1073.60 200.00 L1073.88 231.82 L1074.11 222.82 L1074.34 224.39 L1074.57 243.50 L1074.79 236.22 L1075.02 235.67 L1075.25 234.51 L1075.48 236.99 L1075.71 231.25 L1075.94 225.16 L1076.16 233.61 L1076.39 238.27 L1076.62 224.46 L1076.80 180.00 L1077.08 229.85 L1077.30 221.73 L1077.53 232.75 L1077.76 237.57 L1077.99 224.09 L1078.22 223.57 L1078.44 246.71 L1078.67 229.57 L1079.00 186.00 L1079.13 220.20 L1079.36 242.80 L1079.60 276.90 L1079.81 229.33 L1080.04 212.04 L1080.27 226.69 L1080.50 226.98 L1080.72 230.33 L1080.95 228.84 L1081.18 238.01 L1081.41 234.14 L1081.64 228.55 L1081.86 219.94 L1082.00 197.00 L1082.32 232.72 L1082.55 220.01 L1082.78 225.83 L1083.00 232.91 L1083.23 221.03 L1083.46 238.87 L1083.69 223.01 L1083.92 231.31 L1084.15 232.96 L1084.37 215.95 L1084.60 234.93 L1084.83 219.51 L1085.06 233.02 L1085.29 217.49 L1085.51 224.49 L1085.74 243.69 L1086.00 191.40 L1086.20 224.92 L1086.43 224.84 L1086.65 222.72 L1086.88 224.74 L1087.11 223.87 L1087.34 237.01 L1087.57 236.81 L1087.79 222.31 L1088.02 230.77 L1088.25 233.72 L1088.48 226.75 L1088.71 225.63 L1088.93 236.00 L1089.16 229.34 L1089.39 234.04 L1089.62 228.08 L1089.85 239.44 L1090.07 226.22 L1090.30 222.82 L1090.60 215.90 L1090.76 230.92 L1090.99 224.79 L1091.21 228.46 L1091.44 231.29 L1091.67 232.79 L1091.90 230.30 L1092.13 230.20 L1092.30 245.60 L1092.58 226.51 L1092.81 232.44 L1093.04 233.09 L1093.27 227.70 L1093.50 227.33 L1093.72 233.57 L1093.95 233.01 L1094.18 232.29 L1094.41 232.49 L1094.64 232.00 L1094.86 225.69 L1095.09 230.67 L1095.32 230.73 L1095.55 228.90 L1095.78 228.39 L1096.00 229.56 L1096.23 233.27 L1096.46 233.79 L1096.69 228.34 L1096.92 232.78 L1097.14 229.86 L1097.37 232.92 L1097.60 226.94 L1097.83 231.95 L1098.06 228.11 L1098.28 230.88 L1098.51 228.85 L1098.74 230.55 L1098.97 227.77 L1099.20 233.67 L1099.42 230.15 L1099.65 224.94 L1099.88 227.65 L1100.11 230.20 L1100.34 230.09 L1100.56 231.11 L1100.79 237.96 L1101.02 219.06 L1101.25 225.73 L1101.48 221.78 L1101.71 237.13 L1101.93 222.73 L1102.16 224.16 L1102.39 230.35 L1102.62 236.89 L1102.85 236.55 L1103.07 232.69 L1103.30 233.26 L1103.53 230.90 L1103.80 213.00 L1103.99 235.96 L1104.21 232.48 L1104.44 226.82 L1104.67 226.33 L1105.00 245.60 L1105.13 235.53 L1105.35 233.11 L1105.58 229.59 L1105.81 236.92 L1106.04 226.54 L1106.27 226.53 L1106.49 223.94 L1106.72 231.43 L1106.95 230.97 L1107.18 229.39 L1107.41 226.88 L1107.63 234.04 L1107.86 230.16 L1108.09 229.27 L1108.32 227.93 L1108.55 225.42 L1108.77 235.18 L1109.00 227.13 L1109.23 227.03 L1109.46 231.61 L1109.69 233.65 L1109.92 234.81 L1110.14 230.68 L1110.37 231.62 L1110.60 233.71 L1110.83 235.10 L1111.06 233.41 L1111.28 231.41 L1111.51 213.79 L1111.74 231.68 L1111.97 226.92 L1112.20 237.60 L1112.42 232.12 L1112.65 222.57 L1112.88 236.25 L1113.11 223.70 L1113.34 227.81 L1113.56 227.94 L1113.79 208.46 L1114.02 223.88 L1114.25 230.02 L1114.48 221.62 L1114.70 223.24 L1114.93 230.40 L1115.16 226.57 L1115.39 225.59 L1115.62 235.64 L1115.84 235.82 L1116.07 228.97 L1116.30 232.14 L1116.53 229.46 L1116.76 228.93 L1117.00 260.00 L1117.21 228.67 L1117.44 225.05 L1117.67 233.85 L1117.90 232.21 L1118.13 231.76 L1118.35 233.44 L1118.58 225.56 L1118.81 226.38 L1119.04 232.30 L1119.27 226.85 L1119.49 228.73 L1119.72 228.93 L1119.95 234.22 L1120.18 231.82 L1120.41 231.02 L1120.63 236.37 L1120.86 233.14 L1121.09 232.25 L1121.32 226.85 L1121.55 226.80 L1121.77 220.32 L1122.00 237.77 L1122.23 231.58 L1122.46 234.44 L1122.69 236.43 L1122.91 233.19 L1123.14 229.25 L1123.37 235.43 L1123.60 203.00 L1123.83 227.58 L1124.00 261.60 L1124.28 220.68 L1124.51 236.39 L1124.74 239.34 L1124.97 231.75 L1125.19 227.13 L1125.42 217.38 L1125.65 243.78 L1125.88 231.95 L1126.11 221.48 L1126.33 226.95 L1126.56 225.15 L1126.70 205.20 L1127.02 239.43 L1127.25 224.40 L1127.48 241.63 L1127.70 235.36 L1127.93 217.74 L1128.16 233.28 L1128.39 236.08 L1128.62 240.08 L1128.84 223.41 L1129.07 235.47 L1129.30 230.21 L1129.53 231.15 L1129.76 229.59 L1129.98 232.30 L1130.21 214.40 L1130.44 238.92 L1130.67 249.12 L1131.00 220.00 L1131.12 212.76 L1131.35 225.11 L1131.58 228.11 L1131.81 240.41 L1132.04 219.06 L1132.26 221.97 L1132.49 245.21 L1132.72 233.90 L1132.95 223.99 L1133.18 222.51 L1133.40 232.99 L1133.63 237.89 L1133.86 243.59 L1134.09 233.16 L1134.32 246.70 L1134.54 234.36 L1134.77 251.15 L1135.00 238.52 L1135.30 215.90 L1135.46 236.93 L1135.69 226.87 L1135.91 229.83 L1136.14 229.33 L1136.37 229.41 L1136.60 229.89 L1136.83 234.33 L1137.00 274.70 L1137.28 229.00 L1137.51 238.44 L1137.74 228.00 L1137.97 230.99 L1138.19 221.87 L1138.42 223.51 L1138.65 227.93 L1138.88 226.06 L1139.00 191.40 L1139.33 227.18 L1139.56 222.30 L1139.79 226.91 L1140.02 226.30 L1140.25 230.59 L1140.47 215.85 L1140.70 230.40 L1141.00 190.00 L1141.16 243.02 L1141.39 228.49 L1141.61 226.46 L1141.84 236.47 L1142.07 227.17 L1142.30 226.99 L1142.53 235.74 L1142.75 236.51 L1142.98 226.97 L1143.21 229.92 L1143.44 228.38 L1143.67 232.84 L1143.80 210.10 L1144.12 232.79 L1144.35 228.26 L1144.58 229.38 L1144.80 255.60 L1145.04 223.24 L1145.26 221.29 L1145.49 219.12 L1145.72 211.91 L1145.90 218.00 L1146.18 219.38 L1146.40 227.29 L1146.63 228.58 L1146.86 226.26 L1147.09 226.52 L1147.32 224.78 L1147.54 238.53 L1147.77 226.53 L1148.00 237.65" fill="none" stroke="#0000ff" stroke-width="2" stroke-linejoin="miter" stroke-miterlimit="1" shape-rendering="crispEdges"/><path d="M683.00 228.83 L683.23 229.71 L683.46 230.05 L683.68 229.22 L683.91 228.77 L684.14 229.46 L684.37 229.76 L684.60 230.10 L684.82 228.83 L685.05 228.79 L685.28 229.89 L685.51 229.76 L685.74 230.34 L685.96 230.04 L686.19 229.44 L686.42 229.35 L686.65 230.91 L686.88 229.34 L687.10 229.07 L687.33 228.87 L687.56 229.55 L687.79 229.58 L688.02 229.31 L688.25 229.47 L688.47 229.65 L688.70 229.88 L688.93 230.10 L689.16 229.62 L689.39 228.52 L689.61 229.89 L689.84 228.72 L690.07 229.41 L690.30 228.69 L690.53 229.50 L690.75 229.07 L690.98 229.62 L691.21 231.32 L691.44 229.47 L691.67 229.96 L691.89 228.77 L692.12 229.34 L692.35 229.86 L692.58 229.45 L692.81 229.70 L693.03 229.56 L693.26 228.95 L693.49 229.81 L693.72 229.05 L693.95 230.53 L694.17 229.22 L694.40 229.88 L694.63 229.50 L694.86 230.02 L695.09 229.17 L695.31 230.05 L695.54 229.43 L695.77 230.19 L696.00 229.84 L696.23 229.58 L696.46 229.07 L696.68 229.92 L696.91 229.76 L697.14 230.40 L697.37 229.29 L697.60 229.81 L697.82 229.78 L698.05 229.66 L698.28 229.61 L698.51 229.60 L698.74 229.17 L698.96 228.94 L699.19 229.28 L699.42 229.82 L699.65 230.33 L699.88 230.04 L700.10 230.08 L700.33 229.93 L700.56 229.88 L700.79 229.60 L701.02 229.92 L701.24 230.48 L701.47 229.32 L701.70 229.12 L701.93 230.58 L702.16 229.63 L702.38 230.03 L702.61 229.98 L702.84 228.88 L703.07 230.84 L703.30 230.48 L703.52 229.60 L703.75 229.91 L703.98 229.57 L704.21 229.01 L704.44 229.44 L704.67 229.71 L704.89 230.11 L705.12 229.89 L705.35 229.53 L705.58 230.25 L705.81 229.08 L706.03 229.94 L706.26 230.11 L706.49 229.34 L706.72 228.52 L706.95 229.00 L707.17 229.63 L707.40 229.79 L707.63 230.35 L707.86 228.95 L708.09 229.50 L708.31 229.86 L708.54 229.41 L708.77 228.20 L709.00 229.94 L709.23 230.77 L709.45 230.05 L709.68 229.00 L709.91 229.27 L710.14 229.62 L710.37 230.87 L710.59 229.84 L710.82 229.56 L711.05 230.36 L711.28 229.46 L711.51 230.52 L711.73 229.12 L711.96 229.24 L712.19 229.90 L712.42 230.28 L712.65 229.86 L712.87 229.67 L713.10 228.50 L713.33 229.11 L713.56 229.16 L713.79 229.21 L714.02 229.82 L714.24 229.32 L714.47 229.93 L714.70 229.55 L714.93 229.32 L715.16 229.56 L715.38 229.74 L715.61 229.97 L715.84 229.24 L716.07 229.37 L716.30 228.75 L716.52 230.38 L716.75 230.30 L716.98 229.40 L717.21 229.24 L717.44 228.82 L717.66 229.59 L717.89 229.61 L718.12 230.70 L718.35 229.64 L718.58 229.07 L718.80 228.16 L719.03 230.28 L719.26 229.60 L719.49 228.61 L719.72 229.60 L719.94 228.62 L720.17 231.41 L720.40 230.12 L720.63 229.81 L720.86 229.40 L721.08 228.32 L721.31 229.43 L721.54 228.64 L721.77 229.83 L722.00 228.32 L722.23 229.00 L722.45 230.17 L722.68 230.40 L722.91 228.85 L723.14 228.66 L723.37 229.98 L723.59 229.97 L723.82 228.96 L724.05 229.12 L724.28 229.12 L724.51 228.85 L724.73 229.13 L724.96 230.19 L725.19 229.88 L725.42 230.63 L725.65 229.45 L725.87 229.43 L726.10 228.96 L726.33 229.43 L726.56 228.78 L726.79 228.52 L727.01 229.88 L727.24 230.29 L727.47 229.96 L727.70 230.23 L727.93 229.64 L728.15 229.10 L728.38 229.55 L728.61 229.29 L728.84 228.89 L729.07 228.57 L729.29 228.68 L729.52 229.50 L729.75 229.58 L729.98 229.24 L730.21 230.29 L730.44 229.60 L730.66 229.82 L730.89 230.17 L731.12 229.05 L731.35 228.42 L731.58 229.91 L731.80 229.12 L732.03 230.22 L732.26 229.69 L732.49 230.05 L732.72 229.92 L732.94 228.36 L733.17 229.90 L733.40 229.13 L733.63 229.08 L733.86 229.26 L734.08 229.92 L734.31 229.99 L734.54 230.06 L734.77 228.59 L735.00 229.18 L735.22 228.19 L735.45 229.44 L735.68 229.83 L735.91 229.08 L736.14 229.63 L736.36 229.63 L736.59 230.05 L736.82 229.05 L737.05 229.04 L737.28 229.08 L737.50 230.46 L737.73 230.10 L737.96 229.43 L738.19 229.62 L738.42 229.56 L738.64 229.61 L738.87 229.39 L739.10 229.32 L739.33 228.81 L739.56 229.15 L739.79 230.41 L740.01 229.80 L740.24 229.54 L740.47 229.38 L740.70 229.53 L740.93 229.69 L741.15 229.14 L741.38 229.61 L741.61 229.63 L741.84 229.09 L742.07 228.00 L742.29 227.60 L742.52 227.48 L742.75 231.19 L742.98 225.02 L743.21 228.99 L743.43 228.34 L743.66 228.32 L743.89 229.69 L744.12 231.64 L744.35 229.65 L744.57 229.23 L744.80 228.34 L745.03 229.25 L745.26 231.23 L745.49 228.75 L745.71 227.32 L745.94 227.10 L746.17 227.40 L746.40 226.86 L746.63 231.59 L746.85 230.17 L747.08 229.05 L747.31 232.27 L747.54 228.25 L747.77 230.93 L748.00 231.02 L748.22 226.56 L748.45 226.54 L748.68 227.74 L748.91 231.22 L749.14 231.96 L749.36 227.17 L749.59 231.49 L749.82 228.77 L750.05 228.75 L750.28 228.45 L750.50 228.88 L750.73 226.05 L750.96 227.60 L751.19 227.15 L751.42 230.43 L751.64 233.47 L751.87 234.69 L752.10 228.86 L752.33 226.23 L752.56 228.73 L752.78 227.72 L753.01 233.27 L753.24 230.58 L753.47 228.12 L753.70 231.28 L753.92 230.52 L754.15 226.41 L754.38 228.49 L754.61 229.05 L754.84 229.54 L755.06 229.75 L755.29 228.86 L755.52 229.86 L755.75 228.39 L755.98 227.80 L756.21 232.38 L756.43 230.18 L756.66 230.33 L756.89 226.47 L757.12 229.18 L757.35 231.06 L757.57 227.05 L757.80 231.59 L758.03 228.76 L758.26 230.27 L758.49 229.25 L758.71 229.92 L758.94 231.79 L759.17 228.73 L759.40 232.47 L759.63 228.01 L759.85 227.73 L760.08 230.28 L760.31 228.33 L760.54 229.09 L760.77 230.50 L760.99 230.83 L761.22 227.55 L761.45 230.06 L761.68 231.57 L761.91 230.81 L762.13 229.24 L762.36 228.84 L762.59 229.17 L762.82 228.23 L763.05 229.21 L763.27 229.29 L763.50 229.34 L763.73 230.80 L763.96 229.25 L764.19 227.90 L764.41 230.66 L764.64 228.32 L764.87 229.01 L765.10 229.35 L765.33 229.12 L765.56 228.40 L765.78 229.23 L766.01 231.90 L766.24 228.83 L766.47 229.35 L766.70 230.74 L766.92 230.32 L767.15 230.34 L767.38 230.45 L767.61 227.34 L767.84 228.55 L768.06 229.64 L768.29 230.05 L768.52 230.92 L768.75 230.02 L768.98 229.24 L769.20 229.54 L769.43 229.27 L769.66 229.77 L769.89 230.24 L770.12 229.13 L770.34 228.61 L770.57 228.56 L770.80 230.71 L771.03 230.91 L771.26 230.59 L771.48 230.44 L771.71 230.42 L771.94 229.50 L772.17 230.23 L772.40 228.34 L772.62 229.28 L772.85 228.69 L773.08 230.30 L773.31 228.86 L773.54 229.38 L773.77 229.94 L773.99 230.99 L774.22 228.63 L774.45 228.47 L774.68 230.40 L774.91 228.28 L775.13 230.00 L775.36 228.87 L775.59 229.38 L775.82 227.50 L776.05 230.28 L776.27 228.95 L776.50 228.51 L776.73 231.78 L776.96 230.28 L777.19 233.36 L777.41 229.95 L777.64 229.12 L777.87 229.62 L778.10 231.27 L778.33 229.47 L778.55 230.00 L778.78 230.07 L779.01 228.50 L779.24 229.64 L779.47 228.95 L779.69 228.13 L779.92 230.46 L780.15 230.23 L780.38 229.58 L780.61 228.50 L780.83 227.29 L781.06 230.03 L781.29 229.39 L781.52 227.65 L781.75 229.43 L781.97 227.83 L782.20 229.47 L782.43 229.66 L782.66 229.89 L782.89 229.74 L783.12 229.69 L783.34 228.25 L783.57 229.08 L783.80 228.94 L784.03 229.24 L784.26 229.80 L784.48 230.18 L784.71 231.30 L784.94 226.67 L785.17 230.42 L785.40 229.04 L785.62 234.74 L785.85 231.65 L786.08 225.70 L786.31 230.42 L786.54 228.30 L786.76 231.79 L786.99 227.07 L787.22 229.27 L787.45 229.20 L787.68 229.28 L787.90 228.16 L788.13 225.27 L788.36 230.56 L788.59 231.80 L788.82 229.34 L789.04 227.16 L789.27 229.97 L789.50 230.80 L789.73 229.10 L789.96 229.47 L790.18 232.74 L790.41 226.93 L790.64 228.22 L790.87 225.12 L791.10 227.89 L791.33 227.80 L791.55 227.29 L791.78 227.90 L792.01 233.63 L792.24 229.05 L792.47 229.24 L792.69 234.56 L792.92 229.36 L793.15 225.51 L793.38 230.43 L793.61 227.34 L793.83 233.27 L794.06 226.63 L794.29 228.16 L794.52 225.81 L794.75 229.72 L794.97 227.16 L795.20 229.35 L795.43 228.63 L795.66 228.09 L795.89 231.67 L796.11 231.65 L796.34 229.64 L796.57 227.43 L796.80 227.04 L797.03 230.12 L797.25 235.00 L797.48 228.45 L797.71 227.70 L797.94 227.90 L798.17 226.98 L798.39 227.26 L798.62 229.03 L798.85 232.80 L799.08 229.50 L799.31 228.33 L799.54 225.79 L799.76 229.99 L799.99 229.44 L800.22 228.40 L800.45 228.52 L800.68 229.46 L800.90 230.41 L801.13 230.06 L801.36 229.69 L801.59 229.21 L801.82 229.79 L802.04 229.49 L802.27 231.46 L802.50 228.48 L802.73 229.17 L802.96 230.64 L803.18 229.26 L803.41 230.78 L803.64 229.46 L803.87 229.63 L804.10 229.17 L804.32 228.26 L804.55 228.63 L804.78 231.49 L805.01 230.08 L805.24 230.05 L805.46 230.36 L805.69 230.01 L805.92 230.42 L806.15 229.26 L806.38 229.30 L806.60 230.39 L806.83 229.18 L807.06 228.30 L807.29 229.30 L807.52 229.01 L807.74 230.05 L807.97 228.85 L808.20 228.54 L808.43 229.20 L808.66 230.90 L808.89 229.46 L809.11 229.64 L809.34 229.51 L809.57 229.77 L809.80 230.34 L810.03 230.76 L810.25 228.02 L810.48 230.73 L810.71 229.50 L810.94 229.21 L811.17 231.66 L811.39 229.35 L811.62 231.25 L811.85 230.37 L812.08 228.57 L812.31 229.94 L812.53 230.16 L812.76 229.39 L812.99 227.40 L813.22 229.19 L813.45 229.33 L813.67 228.50 L813.90 231.14 L814.13 229.28 L814.36 229.15 L814.59 229.23 L814.81 228.79 L815.04 228.80 L815.27 229.58 L815.50 229.78 L815.73 229.04 L815.95 229.42 L816.18 228.25 L816.41 229.97 L816.64 228.83 L816.87 229.69 L817.10 228.68 L817.32 229.04 L817.55 229.69 L817.78 228.41 L818.01 231.72 L818.24 229.47 L818.46 229.43 L818.69 228.84 L818.92 230.94 L819.15 230.75 L819.38 229.77 L819.60 228.27 L819.83 229.05 L820.06 230.05 L820.29 229.04 L820.52 228.43 L820.74 228.43 L820.97 228.81 L821.20 229.51 L821.43 228.92 L821.66 229.52 L821.88 232.01 L822.11 231.10 L822.34 228.57 L822.57 229.81 L822.80 229.58 L823.02 229.38 L823.25 230.44 L823.48 229.20 L823.71 229.21 L823.94 229.16 L824.16 229.41 L824.39 230.66 L824.62 230.20 L824.85 228.29 L825.08 229.10 L825.31 228.78 L825.53 230.23 L825.76 229.70 L825.99 230.30 L826.22 229.44 L826.45 227.78 L826.67 229.91 L826.90 229.70 L827.13 229.96 L827.36 228.33 L827.59 229.57 L827.81 228.88 L828.04 228.88 L828.27 229.82 L828.50 229.82 L828.73 228.70 L828.95 227.96 L829.18 227.27 L829.41 228.98 L829.64 230.51 L829.87 229.45 L830.09 227.47 L830.32 228.72 L830.55 229.88 L830.78 231.01 L831.01 230.55 L831.23 229.83 L831.46 229.68 L831.69 228.55 L831.92 229.09 L832.15 229.20 L832.37 228.80 L832.60 229.56 L832.83 229.15 L833.06 229.80 L833.29 230.79 L833.51 230.17 L833.74 229.88 L833.97 229.28 L834.20 228.13 L834.43 229.40 L834.66 229.99 L834.88 228.59 L835.11 230.63 L835.34 229.20 L835.57 229.83 L835.80 229.20 L836.02 228.37 L836.25 231.36 L836.48 228.45 L836.71 230.33 L836.94 229.00 L837.16 229.75 L837.39 228.77 L837.62 229.13 L837.85 230.33 L838.08 231.25 L838.30 228.74 L838.53 229.51 L838.76 230.35 L838.99 228.93 L839.22 230.14 L839.44 228.79 L839.67 230.04 L839.90 229.89 L840.13 230.59 L840.36 229.83 L840.58 228.43 L840.81 230.10 L841.04 228.51 L841.27 230.18 L841.50 230.86 L841.72 230.04 L841.95 229.00 L842.18 230.57 L842.41 229.65 L842.64 228.38 L842.87 229.18 L843.09 230.78 L843.32 229.23 L843.55 229.61 L843.78 229.19 L844.01 227.98 L844.23 229.04 L844.46 229.82 L844.69 229.69 L844.92 229.34 L845.15 227.58 L845.37 230.60 L845.60 230.15 L845.83 230.42 L846.06 230.67 L846.29 229.10 L846.51 228.96 L846.74 229.78 L846.97 231.01 L847.20 227.98 L847.43 229.29 L847.65 228.86 L847.88 230.00 L848.11 230.82 L848.34 229.23 L848.57 228.38 L848.79 229.54 L849.02 229.24 L849.25 228.11 L849.48 230.30 L849.71 229.03 L849.93 230.11 L850.16 228.32 L850.39 230.49 L850.62 228.20 L850.85 230.45 L851.08 227.87 L851.30 230.74 L851.53 229.16 L851.76 228.10 L851.99 229.29 L852.22 229.80 L852.44 228.61 L852.67 229.06 L852.90 229.74 L853.13 229.35 L853.36 226.74 L853.58 229.11 L853.81 229.88 L854.04 229.77 L854.27 230.41 L854.50 228.88 L854.72 231.80 L854.95 230.22 L855.18 229.78 L855.41 230.48 L855.64 230.36 L855.86 229.59 L856.09 228.94 L856.32 230.42 L856.55 229.88 L856.78 227.80 L857.00 228.51 L857.23 229.92 L857.46 229.60 L857.69 229.75 L857.92 230.08 L858.14 229.63 L858.37 230.92 L858.60 228.97 L858.83 229.14 L859.06 229.79 L859.28 230.17 L859.51 230.21 L859.74 230.84 L859.97 229.07 L860.20 230.55 L860.43 229.92 L860.65 228.56 L860.88 229.38 L861.11 231.38 L861.34 230.21 L861.57 229.08 L861.79 227.34 L862.02 226.41 L862.25 226.55 L862.48 229.82 L862.71 239.20 L862.93 232.63 L863.16 230.81 L863.50 225.00 L863.62 224.52 L863.85 228.63 L864.00 238.00 L864.30 242.13 L864.53 227.80 L864.76 226.91 L865.00 214.00 L865.21 229.82 L865.44 224.31 L865.67 234.92 L866.00 222.00 L866.13 223.92 L866.35 230.85 L866.50 251.60 L866.81 228.08 L867.04 232.43 L867.27 232.95 L867.50 214.50 L867.72 220.86 L868.00 243.00 L868.18 228.96 L868.41 234.67 L868.64 233.71 L868.86 235.35 L869.00 218.00 L869.32 229.57 L869.55 233.93 L869.78 223.08 L870.00 232.39 L870.23 231.15 L870.46 229.10 L870.69 227.64 L870.92 224.81 L871.14 229.86 L871.37 232.82 L871.60 228.55 L871.83 230.88 L872.06 227.77 L872.28 230.16 L872.51 226.88 L872.74 230.48 L872.97 228.93 L873.20 230.32 L873.42 227.92 L873.65 226.44 L873.88 228.65 L874.11 232.19 L874.34 233.61 L874.56 228.66 L874.79 231.58 L875.02 231.47 L875.25 230.52 L875.48 225.47 L875.70 230.34 L875.93 226.98 L876.16 232.56 L876.39 231.55 L876.62 231.11 L876.85 222.91 L877.07 231.12 L877.30 231.32 L877.53 226.18 L877.76 232.02 L877.99 229.70 L878.21 229.02 L878.44 227.65 L878.67 226.85 L878.90 228.37 L879.13 237.52 L879.35 230.03 L879.58 230.04 L879.81 227.82 L880.04 228.26 L880.27 228.40 L880.49 227.73 L880.72 231.25 L880.95 228.96 L881.18 231.23 L881.41 227.19 L881.63 231.36 L881.86 229.45 L882.09 230.83 L882.32 229.29 L882.55 227.72 L882.77 231.92 L883.00 228.63 L883.23 229.21 L883.46 227.73 L883.69 229.91 L883.91 228.72 L884.14 230.06 L884.37 230.19 L884.60 228.12 L884.83 226.68 L885.05 230.37 L885.28 231.34 L885.51 230.89 L885.74 227.21 L885.97 230.71 L886.20 230.27 L886.42 230.07 L886.65 230.36 L886.88 228.85 L887.11 229.93 L887.34 231.35 L887.56 228.49 L887.79 226.62 L888.02 229.29 L888.25 229.89 L888.48 225.81 L888.70 228.15 L888.93 230.68 L889.16 229.20 L889.39 229.68 L889.62 226.98 L889.84 231.31 L890.07 233.01 L890.30 229.10 L890.53 228.04 L890.76 227.18 L890.98 231.28 L891.21 229.71 L891.44 227.91 L891.67 231.93 L891.90 231.03 L892.12 230.71 L892.35 225.98 L892.58 229.29 L892.81 230.75 L893.04 227.05 L893.26 231.36 L893.49 232.36 L893.72 231.57 L893.95 228.06 L894.18 228.08 L894.41 231.38 L894.63 231.49 L894.86 231.96 L895.09 231.90 L895.32 229.30 L895.55 228.68 L895.77 225.79 L896.00 231.07 L896.23 234.05 L896.46 228.57 L896.69 228.55 L896.91 230.80 L897.14 230.25 L897.37 226.76 L897.60 228.07 L897.83 227.30 L898.05 233.54 L898.28 228.07 L898.51 231.21 L898.74 233.34 L898.97 233.29 L899.19 232.35 L899.42 232.76 L899.65 227.03 L899.88 228.81 L900.11 228.04 L900.33 228.92 L900.56 234.74 L900.79 226.14 L901.02 230.62 L901.25 227.03 L901.47 232.18 L901.70 232.10 L901.93 228.48 L902.16 233.64 L902.39 229.65 L902.62 232.11 L902.84 230.12 L903.07 228.38 L903.30 228.74 L903.53 229.26 L903.76 230.73 L903.98 229.75 L904.21 234.22 L904.44 229.11 L904.67 228.57 L904.90 228.06 L905.12 227.95 L905.35 226.62 L905.58 227.53 L905.81 231.31 L906.04 229.62 L906.26 229.16 L906.49 230.20 L906.72 231.64 L906.95 230.73 L907.18 231.05 L907.40 228.38 L907.63 228.98 L907.86 227.95 L908.09 229.31 L908.32 227.86 L908.54 228.76 L908.77 229.15 L909.00 229.07 L909.23 228.97 L909.46 228.52 L909.68 232.12 L909.91 228.82 L910.14 227.48 L910.37 229.89 L910.60 227.32 L910.82 227.35 L911.05 229.67 L911.28 226.17 L911.51 223.06 L911.74 230.08 L911.97 231.57 L912.19 226.16 L912.42 227.71 L912.65 230.65 L912.88 225.53 L913.11 227.75 L913.33 227.09 L913.56 229.10 L913.79 225.55 L914.02 231.29 L914.25 229.21 L914.47 230.11 L914.70 228.84 L914.93 225.26 L915.16 229.20 L915.39 226.82 L915.61 229.52 L915.84 227.79 L916.07 228.87 L916.30 229.08 L916.53 231.04 L916.75 231.03 L916.98 227.49 L917.21 229.47 L917.44 232.42 L917.67 230.49 L917.89 228.04 L918.12 229.26 L918.35 228.80 L918.58 231.38 L918.81 229.57 L919.03 230.25 L919.26 233.92 L919.49 226.74 L919.72 227.47 L919.95 226.04 L920.18 226.16 L920.40 231.30 L920.63 230.11 L920.86 232.93 L921.09 225.35 L921.32 227.65 L921.54 232.53 L921.77 231.66 L922.00 231.36 L922.23 231.33 L922.46 229.57 L922.68 229.48 L922.91 229.57 L923.14 231.27 L923.37 229.16 L923.60 230.17 L923.82 232.55 L924.05 227.14 L924.28 227.92 L924.51 230.69 L924.74 228.95 L924.96 229.17 L925.19 233.91 L925.42 230.37 L925.65 228.62 L925.88 231.81 L926.10 234.79 L926.33 227.17 L926.56 228.09 L926.79 229.74 L927.02 228.16 L927.24 234.06 L927.47 230.60 L927.70 228.66 L927.93 230.53 L928.16 227.83 L928.38 228.23 L928.61 229.72 L928.84 234.51 L929.07 224.77 L929.30 230.38 L929.53 232.34 L929.75 231.05 L929.98 233.54 L930.21 230.45 L930.44 229.81 L930.67 229.22 L930.89 227.70 L931.12 232.93 L931.35 227.02 L931.58 229.24 L931.81 228.40 L932.03 227.85 L932.26 224.83 L932.49 228.70 L932.72 229.79 L932.95 229.80 L933.17 231.27 L933.40 229.16 L933.63 228.15 L933.86 230.15 L934.09 230.90 L934.31 227.60 L934.54 226.31 L934.77 227.35 L935.00 231.72 L935.23 231.60 L935.45 227.64 L935.68 229.73 L935.91 231.26 L936.14 232.29 L936.37 228.12 L936.59 229.00 L936.82 232.46 L937.05 234.56 L937.28 232.71 L937.51 227.10 L937.74 230.44 L937.96 228.87 L938.19 229.38 L938.42 228.11 L938.65 228.49 L938.88 229.48 L939.10 233.29 L939.33 230.97 L939.56 230.40 L939.79 229.56 L940.02 227.92 L940.24 229.02 L940.47 232.10 L940.70 231.24 L940.93 233.62 L941.16 230.05 L941.38 229.46 L941.61 226.10 L941.84 230.34 L942.07 225.88 L942.30 232.70 L942.52 228.18 L942.75 229.50 L942.98 226.66 L943.21 228.46 L943.44 227.54 L943.66 231.88 L943.89 230.02 L944.12 227.02 L944.35 225.44 L944.58 229.36 L944.80 228.48 L945.03 227.17 L945.26 230.74 L945.49 229.11 L945.72 229.73 L945.95 228.26 L946.17 228.30 L946.40 228.53 L946.63 226.13 L946.86 230.82 L947.09 230.35 L947.31 225.88 L947.54 229.71 L947.77 231.92 L948.00 230.00 L948.23 232.22 L948.45 228.94 L948.68 229.50 L948.91 226.77 L949.14 227.60 L949.37 225.67 L949.59 227.62 L949.82 230.01 L950.05 230.59 L950.28 231.94 L950.51 229.77 L950.73 227.42 L950.96 230.41 L951.19 229.19 L951.42 233.25 L951.65 233.61 L951.87 231.52 L952.10 227.11 L952.33 228.40 L952.56 229.90 L952.79 228.00 L953.01 230.60 L953.24 230.94 L953.47 231.26 L953.70 229.98 L953.93 227.64 L954.15 227.73 L954.38 229.24 L954.61 232.29 L954.84 232.81 L955.07 231.55 L955.30 230.26 L955.52 230.92 L955.75 231.23 L955.98 232.21 L956.21 231.30 L956.44 226.28 L956.66 231.50 L956.89 230.31 L957.12 228.53 L957.35 230.60 L957.58 230.11 L957.80 229.39 L958.03 225.95 L958.26 229.73 L958.49 230.67 L958.72 229.40 L958.94 226.16 L959.17 230.46 L959.40 231.01 L959.63 229.88 L959.86 230.39 L960.08 228.76 L960.31 228.12 L960.54 230.60 L960.77 228.75 L961.00 229.88 L961.22 236.34 L961.45 231.00 L961.68 229.78 L961.91 226.09 L962.14 229.70 L962.36 231.09 L962.59 228.02 L962.82 229.00 L963.05 224.77 L963.28 230.67 L963.51 228.25 L963.73 230.94 L963.96 232.37 L964.19 229.16 L964.42 231.57 L964.65 230.03 L964.87 229.07 L965.10 228.91 L965.33 227.71 L965.56 232.20 L965.79 231.35 L966.01 227.39 L966.24 231.27 L966.47 227.97 L966.70 226.34 L966.93 232.02 L967.15 226.81 L967.38 231.99 L967.61 229.92 L967.84 231.39 L968.07 230.57 L968.29 231.92 L968.52 230.23 L968.75 230.71 L968.98 230.02 L969.21 231.80 L969.43 228.68 L969.66 231.63 L969.89 232.66 L970.12 229.37 L970.35 230.42 L970.57 228.42 L970.80 228.89 L971.03 230.05 L971.26 228.78 L971.49 227.64 L971.72 229.44 L971.94 229.90 L972.17 230.18 L972.40 230.99 L972.63 225.77 L972.86 232.47 L973.08 229.14 L973.31 227.88 L973.54 228.72 L973.77 230.43 L974.00 231.33 L974.22 228.73 L974.45 229.83 L974.68 226.15 L974.91 229.86 L975.14 229.26 L975.36 228.59 L975.59 231.36 L975.82 233.27 L976.05 231.67 L976.28 227.86 L976.50 232.71 L976.73 228.80 L976.96 229.41 L977.19 228.28 L977.42 230.46 L977.64 230.66 L977.87 229.80 L978.10 229.06 L978.33 229.20 L978.56 228.66 L978.78 231.54 L979.01 228.41 L979.24 229.19 L979.47 229.06 L979.70 227.93 L979.92 229.02 L980.15 226.43 L980.38 230.36 L980.61 230.64 L980.84 228.87 L981.07 232.76 L981.29 227.78 L981.52 230.66 L981.75 230.50 L981.98 228.38 L982.21 229.00 L982.43 231.36 L982.66 229.63 L982.89 230.09 L983.12 232.43 L983.35 229.95 L983.57 226.00 L983.80 227.96 L984.03 231.25 L984.26 229.23 L984.49 227.24 L984.71 225.37 L984.94 230.18 L985.17 233.68 L985.40 226.01 L985.63 223.46 L985.85 230.89 L986.08 227.99 L986.31 228.68 L986.54 228.60 L986.77 226.99 L986.99 230.73 L987.22 232.06 L987.45 230.52 L987.68 227.95 L987.91 232.39 L988.13 229.19 L988.36 231.12 L988.59 226.90 L988.82 231.33 L989.05 231.57 L989.28 233.09 L989.50 229.58 L989.73 230.73 L989.96 227.90 L990.19 231.96 L990.42 231.66 L990.64 232.51 L990.87 228.43 L991.10 226.11 L991.33 229.31 L991.56 228.92 L991.78 227.43 L992.01 231.18 L992.24 232.13 L992.47 230.60 L992.70 232.58 L992.92 230.60 L993.15 226.80 L993.38 227.88 L993.61 228.52 L993.84 231.40 L994.06 232.06 L994.29 229.88 L994.52 232.31 L994.75 227.23 L994.98 229.19 L995.20 233.65 L995.43 230.73 L995.66 232.40 L995.89 224.28 L996.12 224.89 L996.34 227.12 L996.57 232.29 L996.80 234.00 L997.03 227.80 L997.26 226.78 L997.49 226.70 L997.71 227.04 L997.94 231.04 L998.17 228.64 L998.40 234.70 L998.63 231.50 L998.85 227.62 L999.08 230.16 L999.31 229.08 L999.54 231.69 L999.77 232.01 L999.99 228.55 L1000.22 231.97 L1000.45 231.08 L1000.68 229.27 L1000.91 230.21 L1001.13 231.39 L1001.36 228.63 L1001.59 227.65 L1001.82 233.01 L1002.05 229.52 L1002.27 227.87 L1002.50 230.78 L1002.73 225.45 L1002.96 229.66 L1003.19 225.76 L1003.41 228.33 L1003.64 224.60 L1003.87 227.53 L1004.10 231.97 L1004.33 229.01 L1004.55 226.17 L1004.78 234.29 L1005.01 227.78 L1005.24 233.59 L1005.47 228.07 L1005.69 225.48 L1005.92 234.59 L1006.15 228.33 L1006.38 231.60 L1006.61 232.79 L1006.84 225.90 L1007.06 229.71 L1007.29 227.93 L1007.52 231.18 L1007.75 229.48 L1007.98 226.04 L1008.20 229.67 L1008.43 231.61 L1008.66 228.70 L1008.89 231.06 L1009.12 228.05 L1009.34 229.37 L1009.57 230.47 L1009.80 229.91 L1010.03 232.13 L1010.26 231.47 L1010.48 231.25 L1010.71 231.00 L1010.94 229.83 L1011.17 227.12 L1011.40 231.70 L1011.62 233.09 L1011.85 229.98 L1012.08 228.99 L1012.31 229.44 L1012.54 232.00 L1012.76 230.10 L1012.99 227.49 L1013.22 229.16 L1013.45 227.94 L1013.68 229.10 L1013.90 227.67 L1014.13 227.72 L1014.36 232.56 L1014.59 231.67 L1014.82 226.21 L1015.05 227.50 L1015.27 228.60 L1015.50 228.72 L1015.73 226.67 L1015.96 231.34 L1016.19 226.20 L1016.41 230.94 L1016.64 230.95 L1016.87 228.76 L1017.10 228.17 L1017.33 229.64 L1017.55 229.82 L1017.78 225.21 L1018.01 226.94 L1018.24 230.61 L1018.47 229.29 L1018.69 228.66 L1018.92 227.48 L1019.15 228.07 L1019.38 227.95 L1019.61 235.25 L1019.83 226.94 L1020.06 232.67 L1020.29 230.50 L1020.52 229.95 L1020.75 229.92 L1020.97 228.74 L1021.20 232.82 L1021.43 230.56 L1021.66 229.46 L1021.89 229.27 L1022.11 229.93 L1022.34 227.17 L1022.57 228.86 L1022.80 228.24 L1023.03 230.79 L1023.26 230.75 L1023.48 225.69 L1023.71 229.06 L1023.94 231.55 L1024.17 226.86 L1024.40 227.09 L1024.62 231.57 L1024.85 229.25 L1025.08 228.59 L1025.31 227.02 L1025.54 229.87 L1025.76 228.37 L1025.99 229.95 L1026.22 230.39 L1026.45 230.96 L1026.68 228.85 L1026.90 228.44 L1027.13 229.58 L1027.36 229.32 L1027.59 229.87 L1027.82 228.43 L1028.04 229.03 L1028.27 228.31 L1028.50 228.31 L1028.73 229.84 L1028.96 231.89 L1029.18 228.42 L1029.41 230.72 L1029.64 230.23 L1029.87 229.74 L1030.10 230.91 L1030.32 228.37 L1030.55 230.67 L1030.78 230.13 L1031.01 222.35 L1031.24 230.25 L1031.46 230.75 L1031.69 233.53 L1031.92 227.34 L1032.15 229.71 L1032.38 230.24 L1032.61 227.53 L1032.83 231.98 L1033.06 230.44 L1033.29 227.88 L1033.52 227.05 L1033.75 228.66 L1033.97 234.39 L1034.20 233.95 L1034.43 224.43 L1034.66 225.77 L1034.89 230.89 L1035.11 229.30 L1035.34 228.21 L1035.57 230.76 L1035.80 229.71 L1036.03 230.11 L1036.25 230.06 L1036.48 227.28 L1036.71 232.22 L1036.94 228.57 L1037.17 231.85 L1037.39 230.94 L1037.62 229.59 L1037.85 229.80 L1038.08 229.42 L1038.31 225.73 L1038.53 228.85 L1038.76 230.40 L1038.99 226.20 L1039.22 226.45 L1039.45 231.74 L1039.67 231.18 L1039.90 226.33 L1040.13 230.01 L1040.36 229.46 L1040.59 230.56 L1040.82 229.16 L1041.04 229.27 L1041.27 228.70 L1041.50 229.70 L1041.73 229.37 L1041.96 228.80 L1042.18 229.13 L1042.41 228.69 L1042.64 230.18 L1042.87 228.39 L1043.10 227.83 L1043.32 228.47 L1043.55 230.68 L1043.78 228.96 L1044.01 230.21 L1044.24 230.30 L1044.46 228.96 L1044.69 230.32 L1044.92 230.05 L1045.15 229.46 L1045.38 228.74 L1045.60 229.44 L1045.83 228.12 L1046.06 229.21 L1046.29 228.88 L1046.52 229.98 L1046.74 229.88 L1046.97 228.81 L1047.20 230.44 L1047.43 230.80 L1047.66 229.58 L1047.88 228.70 L1048.11 230.05 L1048.34 226.86 L1048.57 228.87 L1048.80 230.14 L1049.03 231.68 L1049.25 228.71 L1049.48 231.16 L1049.71 232.03 L1049.94 231.55 L1050.17 226.95 L1050.39 230.70 L1050.62 229.71 L1050.85 230.61 L1051.08 229.31 L1051.31 228.84 L1051.53 229.26 L1051.76 231.14 L1051.99 230.42 L1052.22 229.19 L1052.45 229.92 L1052.67 230.45 L1052.90 230.12 L1053.13 229.46 L1053.36 228.79 L1053.59 228.70 L1053.81 229.03 L1054.04 228.90 L1054.27 227.79 L1054.50 227.97 L1054.73 230.46 L1054.95 228.28 L1055.18 228.08 L1055.41 229.46 L1055.64 231.08 L1055.87 230.88 L1056.09 229.05 L1056.32 228.38 L1056.55 228.92 L1056.78 228.51 L1057.01 228.90 L1057.23 230.03 L1057.46 228.34 L1057.69 228.65 L1057.92 229.22 L1058.15 229.47 L1058.38 228.67 L1058.60 228.64 L1058.83 228.27 L1059.06 228.68 L1059.29 230.07 L1059.52 229.24 L1059.74 226.11 L1059.97 230.18 L1060.20 229.43 L1060.43 228.55 L1060.66 229.22 L1060.88 226.19 L1061.11 227.69 L1061.34 230.78 L1061.57 231.84 L1061.80 231.89 L1062.02 228.70 L1062.25 229.55 L1062.48 230.35 L1062.71 228.16 L1062.94 231.41 L1063.16 228.71 L1063.39 229.89 L1063.62 228.24 L1063.85 229.90 L1064.08 229.48 L1064.30 230.69 L1064.53 228.24 L1064.76 229.49 L1064.99 231.50 L1065.22 228.19 L1065.44 229.89 L1065.67 229.98 L1065.90 228.96 L1066.13 229.21 L1066.36 231.05 L1066.59 230.75 L1066.81 230.12 L1067.04 229.80 L1067.27 228.26 L1067.50 229.60 L1067.73 231.47 L1067.95 230.66 L1068.18 228.01 L1068.41 227.22 L1068.64 228.77 L1068.87 229.68 L1069.09 228.90 L1069.32 229.16 L1069.55 229.88 L1069.78 230.49 L1070.01 229.73 L1070.23 230.88 L1070.46 227.94 L1070.69 230.02 L1070.92 229.97 L1071.15 227.86 L1071.37 230.88 L1071.60 227.74 L1071.83 227.91 L1072.06 232.44 L1072.29 230.93 L1072.51 229.92 L1072.74 230.99 L1072.97 230.77 L1073.20 228.26 L1073.43 230.03 L1073.65 231.04 L1073.88 229.32 L1074.11 229.58 L1074.34 228.99 L1074.57 230.31 L1074.79 228.89 L1075.02 228.85 L1075.25 228.15 L1075.48 228.48 L1075.71 229.74 L1075.94 230.02 L1076.16 229.07 L1076.39 228.34 L1076.62 229.88 L1076.85 229.90 L1077.08 230.91 L1077.30 228.95 L1077.53 229.05 L1077.76 230.07 L1077.99 231.19 L1078.22 229.45 L1078.44 229.41 L1078.67 228.46 L1078.90 229.08 L1079.13 230.55 L1079.36 230.44 L1079.58 230.74 L1079.81 227.69 L1080.04 230.43 L1080.27 228.48 L1080.50 230.16 L1080.72 226.88 L1080.95 229.39 L1081.18 228.52 L1081.41 230.91 L1081.64 229.64 L1081.86 230.94 L1082.09 229.01 L1082.32 231.68 L1082.55 229.01 L1082.78 231.60 L1083.00 228.96 L1083.23 228.41 L1083.46 230.50 L1083.69 229.06 L1083.92 229.44 L1084.15 228.01 L1084.37 229.12 L1084.60 229.63 L1084.83 228.72 L1085.06 229.94 L1085.29 226.95 L1085.51 230.49 L1085.74 229.05 L1085.97 231.13 L1086.20 229.11 L1086.43 228.77 L1086.65 229.00 L1086.88 229.81 L1087.11 230.16 L1087.34 228.99 L1087.57 228.62 L1087.79 229.98 L1088.02 230.42 L1088.25 227.56 L1088.48 228.34 L1088.71 228.75 L1088.93 231.40 L1089.16 230.87 L1089.39 230.39 L1089.62 230.05 L1089.85 228.26 L1090.07 230.75 L1090.30 229.01 L1090.53 228.62 L1090.76 231.65 L1090.99 227.89 L1091.21 231.04 L1091.44 229.73 L1091.67 228.48 L1091.90 229.70 L1092.13 228.56 L1092.36 229.71 L1092.58 228.78 L1092.81 228.18 L1093.04 232.46 L1093.27 228.94 L1093.50 230.60 L1093.72 229.45 L1093.95 230.26 L1094.18 228.10 L1094.41 228.34 L1094.64 225.85 L1094.86 230.62 L1095.09 230.00 L1095.32 228.19 L1095.55 230.43 L1095.78 230.16 L1096.00 232.76 L1096.23 229.77 L1096.46 230.52 L1096.69 230.19 L1096.92 230.36 L1097.14 229.48 L1097.37 229.04 L1097.60 230.29 L1097.83 230.88 L1098.06 228.20 L1098.28 228.24 L1098.51 229.46 L1098.74 231.51 L1098.97 229.27 L1099.20 227.61 L1099.42 230.40 L1099.65 230.35 L1099.88 231.67 L1100.11 229.72 L1100.34 231.70 L1100.56 228.70 L1100.79 230.51 L1101.02 229.65 L1101.25 228.18 L1101.48 229.20 L1101.71 230.99 L1101.93 230.75 L1102.16 229.08 L1102.39 230.74 L1102.62 230.51 L1102.85 230.50 L1103.07 229.82 L1103.30 229.84 L1103.53 228.58 L1103.76 229.43 L1103.99 229.64 L1104.21 228.68 L1104.44 229.18 L1104.67 229.69 L1104.90 229.74 L1105.13 230.68 L1105.35 228.36 L1105.58 229.06 L1105.81 229.81 L1106.04 229.08 L1106.27 229.88 L1106.49 228.98 L1106.72 230.82 L1106.95 229.25 L1107.18 228.24 L1107.41 230.34 L1107.63 231.36 L1107.86 227.36 L1108.09 229.36 L1108.32 229.58 L1108.55 230.66 L1108.77 231.17 L1109.00 229.33 L1109.23 227.77 L1109.46 230.25 L1109.69 230.63 L1109.92 230.02 L1110.14 229.59 L1110.37 228.60 L1110.60 232.22 L1110.83 228.17 L1111.06 227.83 L1111.28 230.59 L1111.51 229.83 L1111.74 230.25 L1111.97 229.90 L1112.20 231.38 L1112.42 231.09 L1112.65 228.89 L1112.88 230.62 L1113.11 228.20 L1113.34 227.61 L1113.56 230.85 L1113.79 229.03 L1114.02 227.12 L1114.25 229.49 L1114.48 228.77 L1114.70 230.07 L1114.93 229.44 L1115.16 228.65 L1115.39 228.71 L1115.62 230.36 L1115.84 228.47 L1116.07 229.65 L1116.30 228.41 L1116.53 230.01 L1116.76 231.49 L1116.98 230.14 L1117.21 230.75 L1117.44 230.01 L1117.67 228.44 L1117.90 229.17 L1118.13 229.59 L1118.35 230.00 L1118.58 228.84 L1118.81 230.19 L1119.04 228.71 L1119.27 229.58 L1119.49 229.50 L1119.72 228.23 L1119.95 230.62 L1120.18 229.56 L1120.41 229.63 L1120.63 229.47 L1120.86 227.17 L1121.09 227.95 L1121.32 228.51 L1121.55 230.61 L1121.77 228.87 L1122.00 230.18 L1122.23 228.36 L1122.46 228.57 L1122.69 228.99 L1122.91 230.68 L1123.14 227.67 L1123.37 229.31 L1123.60 229.96 L1123.83 229.66 L1124.05 229.49 L1124.28 230.37 L1124.51 229.83 L1124.74 228.39 L1124.97 230.21 L1125.19 228.64 L1125.42 229.13 L1125.65 231.12 L1125.88 232.22 L1126.11 231.12 L1126.33 229.98 L1126.56 228.64 L1126.79 228.66 L1127.02 231.36 L1127.25 229.88 L1127.48 227.97 L1127.70 231.25 L1127.93 230.15 L1128.16 230.97 L1128.39 229.96 L1128.62 227.11 L1128.84 228.69 L1129.07 229.35 L1129.30 229.32 L1129.53 231.18 L1129.76 228.76 L1129.98 229.40 L1130.21 229.44 L1130.44 229.41 L1130.67 228.36 L1130.90 228.15 L1131.12 226.65 L1131.35 229.88 L1131.58 229.28 L1131.81 229.73 L1132.04 228.34 L1132.26 229.51 L1132.49 228.43 L1132.72 228.38 L1132.95 229.88 L1133.18 230.21 L1133.40 230.15 L1133.63 229.46 L1133.86 229.08 L1134.09 231.06 L1134.32 230.89 L1134.54 228.80 L1134.77 228.30 L1135.00 229.92 L1135.23 229.86 L1135.46 228.49 L1135.69 232.04 L1135.91 227.19 L1136.14 228.58 L1136.37 229.78 L1136.60 230.60 L1136.83 227.45 L1137.05 229.02 L1137.28 231.10 L1137.51 231.07 L1137.74 229.23 L1137.97 229.55 L1138.19 228.53 L1138.42 229.94 L1138.65 228.34 L1138.88 227.26 L1139.11 227.82 L1139.33 229.57 L1139.56 228.04 L1139.79 230.74 L1140.02 230.93 L1140.25 230.61 L1140.47 230.23 L1140.70 230.76 L1140.93 229.80 L1141.16 230.47 L1141.39 230.03 L1141.61 230.37 L1141.84 228.38 L1142.07 228.78 L1142.30 228.40 L1142.53 230.43 L1142.75 230.07 L1142.98 228.63 L1143.21 228.41 L1143.44 228.87 L1143.67 230.47 L1143.90 229.38 L1144.12 229.24 L1144.35 228.74 L1144.58 229.37 L1144.81 231.28 L1145.04 228.74 L1145.26 229.12 L1145.49 231.39 L1145.72 230.31 L1145.95 228.25 L1146.18 230.71 L1146.40 228.11 L1146.63 230.13 L1146.86 226.71 L1147.09 228.40 L1147.32 230.52 L1147.54 228.85 L1147.77 228.70 L1148.00 229.57" fill="none" stroke="#ffff00" stroke-width="1" shape-rendering="crispEdges"/></g>
<rect x="665.5" y="65.5" width="501" height="253" fill="none" stroke="#000" stroke-width="1" shape-rendering="crispEdges"/>
<path d="M739.5 318.5V326.5M854.5 318.5V326.5M968.5 318.5V326.5M1083.5 318.5V326.5" stroke="#000" stroke-width="1" fill="none" shape-rendering="crispEdges"/>
<text transform="translate(739.5,348) scale(0.9,1)" text-anchor="middle" font-size="14.0">2018</text>
<text transform="translate(854.5,348) scale(0.9,1)" text-anchor="middle" font-size="14.0">2020</text>
<text transform="translate(968.5,348) scale(0.9,1)" text-anchor="middle" font-size="14.0">2022</text>
<text transform="translate(1083.5,348) scale(0.9,1)" text-anchor="middle" font-size="14.0">2024</text>
<path d="M657 95.5H666M657 129.5H666M657 162.5H666M657 196.5H666M657 229.5H666M657 263.5H666M657 296.5H666" stroke="#000" stroke-width="1" fill="none" shape-rendering="crispEdges"/>
<text transform="translate(646.5,95.5) rotate(-90) scale(0.9,1)" text-anchor="middle" font-size="14.0">0.8</text>
<text transform="translate(646.5,129.5) rotate(-90) scale(0.9,1)" text-anchor="middle" font-size="14.0">0.6</text>
<text transform="translate(646.5,162.5) rotate(-90) scale(0.9,1)" text-anchor="middle" font-size="14.0">0.4</text>
<text transform="translate(646.5,196.5) rotate(-90) scale(0.9,1)" text-anchor="middle" font-size="14.0">0.2</text>
<text transform="translate(646.5,229.5) rotate(-90) scale(0.9,1)" text-anchor="middle" font-size="14.0">0.0</text>
<text transform="translate(646.5,263.5) rotate(-90) scale(0.9,1)" text-anchor="middle" font-size="14.0">-0.2</text>
<text transform="translate(646.5,296.5) rotate(-90) scale(0.9,1)" text-anchor="middle" font-size="14.0">-0.4</text>
<rect x="1002.5" y="65.5" width="164" height="48" fill="#fff" stroke="#000" shape-rendering="crispEdges"/>
<path d="M1014 81H1039" stroke="#0000ff" stroke-width="2" shape-rendering="crispEdges"/>
<path d="M1014 97.5H1039" stroke="#ffff00" stroke-width="1" shape-rendering="crispEdges"/>
<text transform="translate(1050,86.5) scale(0.93,1)" font-size="14.0">AQB stock return</text>
<text transform="translate(1050,102.5) scale(0.93,1)" font-size="14.0">GSPC stock return</text>
<text transform="translate(314.95,440.2) scale(0.9964,1)" text-anchor="middle" font-size="16.0" font-weight="bold">AQB versus S&amp;P500 stock return distribution</text>
<path d="M77.00 709.00 L164.00 709.00 L164.00 708.00 L168.50 708.00 L168.50 709.00 L172.00 709.00 L172.00 708.00 L179.00 708.00 L179.00 709.00 L189.50 709.00 L189.50 708.00 L199.00 708.00 L205.00 706.50 L209.00 705.50 L213.00 703.50 L217.00 701.00 L221.00 697.00 L225.00 691.50 L229.00 684.50 L231.00 680.50 L232.00 677.00 L235.00 672.50 L238.00 670.50 L239.50 669.00 L241.00 670.00 L244.00 674.50 L246.50 680.50 L250.00 685.50 L253.00 691.50 L257.00 698.50 L261.00 702.50 L265.00 703.50 L269.00 705.00 L274.00 707.00 L281.00 708.00 L306.50 708.00 L306.50 709.00 L556.00 709.00" fill="none" stroke="#228b22" stroke-width="2" shape-rendering="crispEdges"/><path d="M65 709.5H566" stroke="#bebebe" stroke-width="1" shape-rendering="crispEdges"/><path d="M229.00 709.50 L231.00 705.00 L233.00 702.00 L234.50 696.00 L235.00 690.00 L236.50 675.00 L237.50 662.00 L238.40 650.00 L238.60 640.00 L239.40 622.00 L240.00 600.00 L240.70 578.40 L240.70 513.00 L241.50 480.00 L242.60 513.00 L242.60 569.00 L243.70 601.00 L245.00 634.00 L245.60 660.00 L246.00 662.00 L247.00 683.00 L248.00 697.00 L250.00 705.00 L252.00 709.50" fill="none" stroke="#ffa500" stroke-width="1" shape-rendering="crispEdges"/><path d="M198 709.5h3M207 709.5h2M214 709.5h2M219 709.5h3M226 709.5h3M252 709.5h8M263 709.5h2M271 709.5h2" stroke="#ffa500" stroke-width="1" shape-rendering="crispEdges"/>
<rect x="65.5" y="465.5" width="501" height="253" fill="none" stroke="#000" stroke-width="1" shape-rendering="crispEdges"/>
<path d="M108.5 718.5V726.5M175.5 718.5V726.5M241.5 718.5V726.5M307.5 718.5V726.5M374.5 718.5V726.5M440.5 718.5V726.5M506.5 718.5V726.5" stroke="#000" stroke-width="1" fill="none" shape-rendering="crispEdges"/>
<text transform="translate(108.5,748) scale(0.9,1)" text-anchor="middle" font-size="14.0">-0.4</text>
<text transform="translate(175.5,748) scale(0.9,1)" text-anchor="middle" font-size="14.0">-0.2</text>
<text transform="translate(241.5,748) scale(0.9,1)" text-anchor="middle" font-size="14.0">0.0</text>
<text transform="translate(307.5,748) scale(0.9,1)" text-anchor="middle" font-size="14.0">0.2</text>
<text transform="translate(374.5,748) scale(0.9,1)" text-anchor="middle" font-size="14.0">0.4</text>
<text transform="translate(440.5,748) scale(0.9,1)" text-anchor="middle" font-size="14.0">0.6</text>
<text transform="translate(506.5,748) scale(0.9,1)" text-anchor="middle" font-size="14.0">0.8</text>
<path d="M57 709.5H66M57 671.5H66M57 634.5H66M57 597.5H66M57 559.5H66M57 522.5H66M57 484.5H66" stroke="#000" stroke-width="1" fill="none" shape-rendering="crispEdges"/>
<text transform="translate(46.5,709.5) rotate(-90) scale(0.9,1)" text-anchor="middle" font-size="14.0">0</text>
<text transform="translate(46.5,671.5) rotate(-90) scale(0.9,1)" text-anchor="middle" font-size="14.0">10</text>
<text transform="translate(46.5,634.5) rotate(-90) scale(0.9,1)" text-anchor="middle" font-size="14.0">20</text>
<text transform="translate(46.5,597.5) rotate(-90) scale(0.9,1)" text-anchor="middle" font-size="14.0">30</text>
<text transform="translate(46.5,559.5) rotate(-90) scale(0.9,1)" text-anchor="middle" font-size="14.0">40</text>
<text transform="translate(46.5,522.5) rotate(-90) scale(0.9,1)" text-anchor="middle" font-size="14.0">50</text>
<text transform="translate(46.5,484.5) rotate(-90) scale(0.9,1)" text-anchor="middle" font-size="14.0">60</text>
<rect x="65.5" y="465.5" width="195" height="48" fill="#fff" stroke="#000" shape-rendering="crispEdges"/>
<path d="M77 481H102" stroke="#228b22" stroke-width="2" shape-rendering="crispEdges"/>
<path d="M77 497.5H102" stroke="#ffa500" stroke-width="1" shape-rendering="crispEdges"/>
<text transform="translate(113,486.5) scale(0.93,1)" font-size="14.0">AQB return distribution</text>
<text transform="translate(113,502.5) scale(0.93,1)" font-size="14.0">GSPC return distribution</text>
<text transform="translate(914.5,440.2) scale(0.9989,1)" text-anchor="middle" font-size="16.0" font-weight="bold">AQB versus S&amp;P500 return frequency distribution</text>
<g clip-path="url(#c4)"><path d="M683.86 716.20V715.05H689.08V716.20Z" fill="#0000ff" stroke="#000" stroke-width="1" shape-rendering="crispEdges"/><path d="M689.08 716.20V716.20H694.29V716.20Z" fill="#ffff00" stroke="#000" stroke-width="1" shape-rendering="crispEdges"/><path d="M699.50 716.20V716.06H704.72V716.20Z" fill="#0000ff" stroke="#000" stroke-width="1" shape-rendering="crispEdges"/><path d="M704.72 716.20V716.20H709.93V716.20Z" fill="#ffff00" stroke="#000" stroke-width="1" shape-rendering="crispEdges"/><path d="M715.15 716.20V716.06H720.36V716.20Z" fill="#0000ff" stroke="#000" stroke-width="1" shape-rendering="crispEdges"/><path d="M720.36 716.20V716.20H725.57V716.20Z" fill="#ffff00" stroke="#000" stroke-width="1" shape-rendering="crispEdges"/><path d="M730.79 716.20V715.20H736.00V716.20Z" fill="#0000ff" stroke="#000" stroke-width="1" shape-rendering="crispEdges"/><path d="M736.00 716.20V716.20H741.22V716.20Z" fill="#ffff00" stroke="#000" stroke-width="1" shape-rendering="crispEdges"/><path d="M746.43 716.20V715.34H751.64V716.20Z" fill="#0000ff" stroke="#000" stroke-width="1" shape-rendering="crispEdges"/><path d="M751.64 716.20V716.20H756.86V716.20Z" fill="#ffff00" stroke="#000" stroke-width="1" shape-rendering="crispEdges"/><path d="M762.07 716.20V714.05H767.29V716.20Z" fill="#0000ff" stroke="#000" stroke-width="1" shape-rendering="crispEdges"/><path d="M767.29 716.20V716.20H772.50V716.20Z" fill="#ffff00" stroke="#000" stroke-width="1" shape-rendering="crispEdges"/><path d="M777.71 716.20V715.20H782.93V716.20Z" fill="#0000ff" stroke="#000" stroke-width="1" shape-rendering="crispEdges"/><path d="M782.93 716.20V716.20H788.14V716.20Z" fill="#ffff00" stroke="#000" stroke-width="1" shape-rendering="crispEdges"/><path d="M793.36 716.20V710.19H798.57V716.20Z" fill="#0000ff" stroke="#000" stroke-width="1" shape-rendering="crispEdges"/><path d="M798.57 716.20V716.20H803.78V716.20Z" fill="#ffff00" stroke="#000" stroke-width="1" shape-rendering="crispEdges"/><path d="M809.00 716.20V689.99H814.21V716.20Z" fill="#0000ff" stroke="#000" stroke-width="1" shape-rendering="crispEdges"/><path d="M814.21 716.20V715.20H819.43V716.20Z" fill="#ffff00" stroke="#000" stroke-width="1" shape-rendering="crispEdges"/><path d="M824.64 716.20V614.24H829.85V716.20Z" fill="#0000ff" stroke="#000" stroke-width="1" shape-rendering="crispEdges"/><path d="M829.85 716.20V677.39H835.07V716.20Z" fill="#ffff00" stroke="#000" stroke-width="1" shape-rendering="crispEdges"/><path d="M840.28 716.20V603.22H845.50V716.20Z" fill="#0000ff" stroke="#000" stroke-width="1" shape-rendering="crispEdges"/><path d="M845.50 716.20V465.30H850.71V716.20Z" fill="#ffff00" stroke="#000" stroke-width="1" shape-rendering="crispEdges"/><path d="M855.92 716.20V686.41H861.14V716.20Z" fill="#0000ff" stroke="#000" stroke-width="1" shape-rendering="crispEdges"/><path d="M861.14 716.20V715.20H866.35V716.20Z" fill="#ffff00" stroke="#000" stroke-width="1" shape-rendering="crispEdges"/><path d="M871.57 716.20V707.18H876.78V716.20Z" fill="#0000ff" stroke="#000" stroke-width="1" shape-rendering="crispEdges"/><path d="M876.78 716.20V715.20H881.99V716.20Z" fill="#ffff00" stroke="#000" stroke-width="1" shape-rendering="crispEdges"/><path d="M887.21 716.20V713.05H892.42V716.20Z" fill="#0000ff" stroke="#000" stroke-width="1" shape-rendering="crispEdges"/><path d="M892.42 716.20V716.20H897.64V716.20Z" fill="#ffff00" stroke="#000" stroke-width="1" shape-rendering="crispEdges"/><path d="M902.85 716.20V715.05H908.06V716.20Z" fill="#0000ff" stroke="#000" stroke-width="1" shape-rendering="crispEdges"/><path d="M908.06 716.20V716.20H913.28V716.20Z" fill="#ffff00" stroke="#000" stroke-width="1" shape-rendering="crispEdges"/><path d="M918.49 716.20V715.34H923.71V716.20Z" fill="#0000ff" stroke="#000" stroke-width="1" shape-rendering="crispEdges"/><path d="M923.71 716.20V716.20H928.92V716.20Z" fill="#ffff00" stroke="#000" stroke-width="1" shape-rendering="crispEdges"/><path d="M934.13 716.20V716.20H939.35V716.20Z" fill="#0000ff" stroke="#000" stroke-width="1" shape-rendering="crispEdges"/><path d="M939.35 716.20V716.20H944.56V716.20Z" fill="#ffff00" stroke="#000" stroke-width="1" shape-rendering="crispEdges"/><path d="M949.78 716.20V715.48H954.99V716.20Z" fill="#0000ff" stroke="#000" stroke-width="1" shape-rendering="crispEdges"/><path d="M954.99 716.20V716.20H960.20V716.20Z" fill="#ffff00" stroke="#000" stroke-width="1" shape-rendering="crispEdges"/><path d="M965.42 716.20V716.20H970.63V716.20Z" fill="#0000ff" stroke="#000" stroke-width="1" shape-rendering="crispEdges"/><path d="M970.63 716.20V716.20H975.85V716.20Z" fill="#ffff00" stroke="#000" stroke-width="1" shape-rendering="crispEdges"/><path d="M981.06 716.20V716.20H986.27V716.20Z" fill="#0000ff" stroke="#000" stroke-width="1" shape-rendering="crispEdges"/><path d="M986.27 716.20V716.20H991.49V716.20Z" fill="#ffff00" stroke="#000" stroke-width="1" shape-rendering="crispEdges"/><path d="M996.70 716.20V716.20H1001.92V716.20Z" fill="#0000ff" stroke="#000" stroke-width="1" shape-rendering="crispEdges"/><path d="M1001.92 716.20V716.20H1007.13V716.20Z" fill="#ffff00" stroke="#000" stroke-width="1" shape-rendering="crispEdges"/><path d="M1012.34 716.20V716.20H1017.56V716.20Z" fill="#0000ff" stroke="#000" stroke-width="1" shape-rendering="crispEdges"/><path d="M1017.56 716.20V716.20H1022.77V716.20Z" fill="#ffff00" stroke="#000" stroke-width="1" shape-rendering="crispEdges"/><path d="M1027.99 716.20V716.20H1033.20V716.20Z" fill="#0000ff" stroke="#000" stroke-width="1" shape-rendering="crispEdges"/><path d="M1033.20 716.20V716.20H1038.41V716.20Z" fill="#ffff00" stroke="#000" stroke-width="1" shape-rendering="crispEdges"/><path d="M1043.63 716.20V716.20H1048.84V716.20Z" fill="#0000ff" stroke="#000" stroke-width="1" shape-rendering="crispEdges"/><path d="M1048.84 716.20V716.20H1054.06V716.20Z" fill="#ffff00" stroke="#000" stroke-width="1" shape-rendering="crispEdges"/><path d="M1059.27 716.20V716.20H1064.48V716.20Z" fill="#0000ff" stroke="#000" stroke-width="1" shape-rendering="crispEdges"/><path d="M1064.48 716.20V716.20H1069.70V716.20Z" fill="#ffff00" stroke="#000" stroke-width="1" shape-rendering="crispEdges"/><path d="M1074.91 716.20V716.20H1080.13V716.20Z" fill="#0000ff" stroke="#000" stroke-width="1" shape-rendering="crispEdges"/><path d="M1080.13 716.20V716.20H1085.34V716.20Z" fill="#ffff00" stroke="#000" stroke-width="1" shape-rendering="crispEdges"/><path d="M1090.55 716.20V716.20H1095.77V716.20Z" fill="#0000ff" stroke="#000" stroke-width="1" shape-rendering="crispEdges"/><path d="M1095.77 716.20V716.20H1100.98V716.20Z" fill="#ffff00" stroke="#000" stroke-width="1" shape-rendering="crispEdges"/><path d="M1106.20 716.20V716.20H1111.41V716.20Z" fill="#0000ff" stroke="#000" stroke-width="1" shape-rendering="crispEdges"/><path d="M1111.41 716.20V716.20H1116.62V716.20Z" fill="#ffff00" stroke="#000" stroke-width="1" shape-rendering="crispEdges"/><path d="M1121.84 716.20V716.20H1127.05V716.20Z" fill="#0000ff" stroke="#000" stroke-width="1" shape-rendering="crispEdges"/><path d="M1127.05 716.20V716.20H1132.27V716.20Z" fill="#ffff00" stroke="#000" stroke-width="1" shape-rendering="crispEdges"/><path d="M1137.48 716.20V716.20H1142.69V716.20Z" fill="#0000ff" stroke="#000" stroke-width="1" shape-rendering="crispEdges"/><path d="M1142.69 716.20V716.20H1147.91V716.20Z" fill="#ffff00" stroke="#000" stroke-width="1" shape-rendering="crispEdges"/></g>
<rect x="665.5" y="465.5" width="501" height="253" fill="none" stroke="#000" stroke-width="1" shape-rendering="crispEdges"/>
<path d="M657 716.5H666M657 644.5H666M657 572.5H666M657 501.5H666" stroke="#000" stroke-width="1" fill="none" shape-rendering="crispEdges"/>
<text transform="translate(646.5,716.5) rotate(-90) scale(0.9,1)" text-anchor="middle" font-size="14.0">0</text>
<text transform="translate(646.5,644.5) rotate(-90) scale(0.9,1)" text-anchor="middle" font-size="14.0">500</text>
<text transform="translate(646.5,572.5) rotate(-90) scale(0.9,1)" text-anchor="middle" font-size="14.0">1000</text>
<text transform="translate(646.5,501.5) rotate(-90) scale(0.9,1)" text-anchor="middle" font-size="14.0">1500</text>
<text transform="translate(615.5,593) rotate(-90) scale(0.93,1)" text-anchor="middle" font-size="14.0">frequency</text>
<text transform="translate(914.9,780.5) scale(0.93,1)" text-anchor="middle" font-size="14.0">return</text>
<text transform="translate(689.08,748) scale(0.93,1)" text-anchor="middle" font-size="14.0">[-0.476,-0.429)</text>
<text transform="translate(798.57,748) scale(0.93,1)" text-anchor="middle" font-size="14.0">[-0.149,-0.102)</text>
<text transform="translate(892.42,748) scale(0.93,1)" text-anchor="middle" font-size="14.0">[0.132,0.179)</text>
<text transform="translate(986.27,748) scale(0.93,1)" text-anchor="middle" font-size="14.0">[0.412,0.459)</text>
<text transform="translate(1080.13,748) scale(0.93,1)" text-anchor="middle" font-size="14.0">[0.693,0.739)</text>
<rect x="993.5" y="465.5" width="173" height="48" fill="#fff" stroke="#000" shape-rendering="crispEdges"/>
<rect x="1005.5" y="477.5" width="9" height="8" fill="#0000ff" stroke="#000" shape-rendering="crispEdges"/>
<rect x="1005.5" y="493.5" width="9" height="8" fill="#ffff00" stroke="#000" shape-rendering="crispEdges"/>
<text transform="translate(1026,486.5) scale(0.93,1)" font-size="14.0">AQB return frequency</text>
<text transform="translate(1026,502.5) scale(0.93,1)" font-size="14.0">GSPC return frequency</text>
</svg></body></html>
